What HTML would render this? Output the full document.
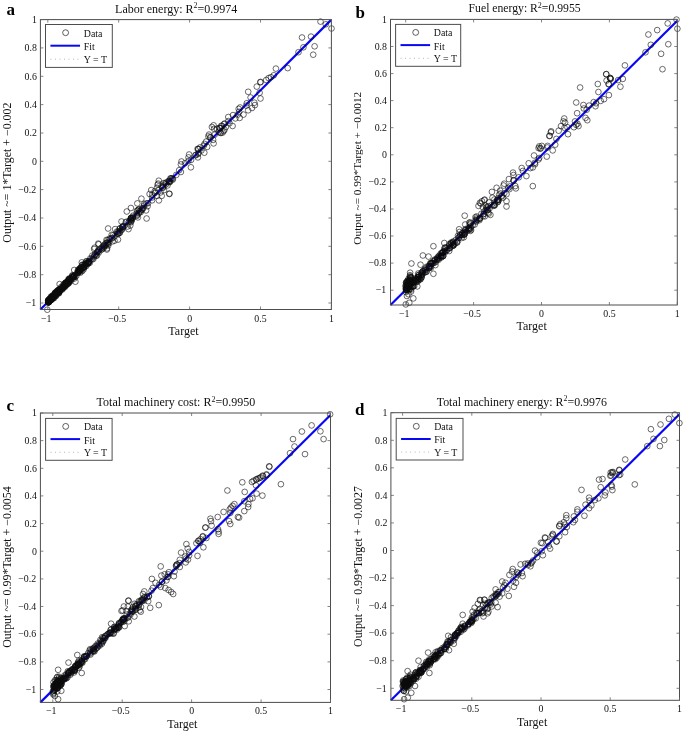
<!DOCTYPE html>
<html><head><meta charset="utf-8"><title>Regression plots</title>
<style>
html,body{margin:0;padding:0;background:#fff;}
svg{display:block;}
text{font-family:"Liberation Serif", "DejaVu Serif", serif;fill:#111;}
.tk{font-size:9.9px;}
.ti{font-size:12px;}
.lb{font-size:12px;}
.lg{font-size:9.9px;}
.lt{font-size:17px;font-weight:bold;fill:#000;}
.fr{fill:none;stroke:#4d4d4d;stroke-width:1;}
.pt{fill:none;stroke:#0a0a0a;stroke-width:0.6;}
</style></head><body>
<svg width="685" height="733" viewBox="0 0 685 733">
<rect x="0" y="0" width="685" height="733" fill="#fff"/>
<g>
<text class="lt" x="6.4" y="14.6">a</text>
<text class="ti" style="font-size:12px" x="176.2" y="12.6" text-anchor="middle">Labor energy: R<tspan dy="-4.3" font-size="8">2</tspan><tspan dy="4.3">=0.9974</tspan></text>
<clipPath id="cla"><rect x="36.4" y="15.6" width="299.0" height="297.9"/></clipPath>
<line x1="40.4" y1="309.5" x2="331.4" y2="19.6" stroke="#0808f4" stroke-width="2.2"/>
<g class="pt" clip-path="url(#cla)"><circle cx="53.5" cy="296.7" r="2.85"/><circle cx="64.8" cy="284.2" r="2.85"/><circle cx="256.8" cy="86.6" r="2.85"/><circle cx="71.9" cy="277.1" r="2.85"/><circle cx="169.4" cy="194.0" r="2.85"/><circle cx="154.7" cy="191.2" r="2.85"/><circle cx="237.8" cy="114.6" r="2.85"/><circle cx="78.1" cy="270.5" r="2.85"/><circle cx="94.7" cy="255.4" r="2.85"/><circle cx="69.2" cy="278.5" r="2.85"/><circle cx="61.3" cy="286.9" r="2.85"/><circle cx="252.0" cy="108.0" r="2.85"/><circle cx="169.1" cy="182.2" r="2.85"/><circle cx="78.3" cy="272.5" r="2.85"/><circle cx="78.3" cy="272.3" r="2.85"/><circle cx="86.1" cy="263.9" r="2.85"/><circle cx="197.6" cy="148.9" r="2.85"/><circle cx="63.7" cy="286.5" r="2.85"/><circle cx="78.1" cy="271.9" r="2.85"/><circle cx="82.0" cy="265.0" r="2.85"/><circle cx="207.2" cy="146.9" r="2.85"/><circle cx="266.2" cy="80.0" r="2.85"/><circle cx="126.4" cy="221.7" r="2.85"/><circle cx="58.5" cy="292.6" r="2.85"/><circle cx="49.4" cy="300.0" r="2.85"/><circle cx="112.5" cy="241.4" r="2.85"/><circle cx="59.1" cy="290.1" r="2.85"/><circle cx="185.0" cy="163.2" r="2.85"/><circle cx="287.7" cy="68.1" r="2.85"/><circle cx="72.9" cy="277.0" r="2.85"/><circle cx="65.5" cy="284.6" r="2.85"/><circle cx="131.0" cy="218.1" r="2.85"/><circle cx="114.5" cy="240.7" r="2.85"/><circle cx="86.2" cy="266.1" r="2.85"/><circle cx="141.8" cy="209.7" r="2.85"/><circle cx="63.3" cy="288.0" r="2.85"/><circle cx="64.1" cy="287.0" r="2.85"/><circle cx="49.2" cy="300.7" r="2.85"/><circle cx="64.0" cy="286.5" r="2.85"/><circle cx="273.8" cy="75.3" r="2.85"/><circle cx="57.2" cy="292.9" r="2.85"/><circle cx="157.0" cy="195.9" r="2.85"/><circle cx="82.2" cy="267.4" r="2.85"/><circle cx="152.1" cy="197.5" r="2.85"/><circle cx="219.3" cy="128.0" r="2.85"/><circle cx="198.2" cy="149.0" r="2.85"/><circle cx="142.3" cy="208.2" r="2.85"/><circle cx="108.3" cy="245.4" r="2.85"/><circle cx="52.0" cy="297.5" r="2.85"/><circle cx="88.5" cy="263.2" r="2.85"/><circle cx="126.8" cy="211.5" r="2.85"/><circle cx="119.4" cy="232.9" r="2.85"/><circle cx="107.0" cy="242.9" r="2.85"/><circle cx="58.8" cy="289.6" r="2.85"/><circle cx="66.1" cy="285.1" r="2.85"/><circle cx="143.3" cy="208.0" r="2.85"/><circle cx="128.5" cy="222.7" r="2.85"/><circle cx="260.5" cy="98.5" r="2.85"/><circle cx="203.8" cy="145.7" r="2.85"/><circle cx="60.4" cy="288.2" r="2.85"/><circle cx="325.8" cy="24.3" r="2.85"/><circle cx="55.3" cy="294.7" r="2.85"/><circle cx="331.5" cy="28.5" r="2.85"/><circle cx="103.3" cy="246.0" r="2.85"/><circle cx="224.7" cy="123.5" r="2.85"/><circle cx="80.3" cy="270.4" r="2.85"/><circle cx="121.5" cy="221.5" r="2.85"/><circle cx="74.8" cy="275.1" r="2.85"/><circle cx="163.0" cy="187.3" r="2.85"/><circle cx="74.0" cy="276.0" r="2.85"/><circle cx="84.0" cy="266.5" r="2.85"/><circle cx="254.4" cy="102.7" r="2.85"/><circle cx="68.7" cy="280.5" r="2.85"/><circle cx="302.0" cy="37.5" r="2.85"/><circle cx="70.3" cy="280.6" r="2.85"/><circle cx="131.1" cy="222.2" r="2.85"/><circle cx="48.3" cy="302.2" r="2.85"/><circle cx="89.0" cy="261.3" r="2.85"/><circle cx="83.6" cy="269.4" r="2.85"/><circle cx="87.1" cy="263.2" r="2.85"/><circle cx="65.8" cy="282.9" r="2.85"/><circle cx="53.9" cy="296.8" r="2.85"/><circle cx="52.5" cy="295.6" r="2.85"/><circle cx="197.9" cy="157.4" r="2.85"/><circle cx="270.9" cy="77.2" r="2.85"/><circle cx="112.9" cy="235.3" r="2.85"/><circle cx="50.1" cy="298.8" r="2.85"/><circle cx="52.6" cy="296.1" r="2.85"/><circle cx="73.8" cy="276.9" r="2.85"/><circle cx="157.0" cy="187.7" r="2.85"/><circle cx="243.5" cy="114.6" r="2.85"/><circle cx="57.9" cy="290.2" r="2.85"/><circle cx="133.1" cy="215.7" r="2.85"/><circle cx="209.0" cy="134.6" r="2.85"/><circle cx="132.7" cy="217.3" r="2.85"/><circle cx="121.2" cy="230.2" r="2.85"/><circle cx="55.0" cy="294.1" r="2.85"/><circle cx="73.7" cy="277.1" r="2.85"/><circle cx="51.2" cy="299.3" r="2.85"/><circle cx="48.4" cy="302.4" r="2.85"/><circle cx="69.4" cy="279.1" r="2.85"/><circle cx="51.9" cy="297.5" r="2.85"/><circle cx="138.7" cy="209.6" r="2.85"/><circle cx="180.9" cy="164.4" r="2.85"/><circle cx="129.0" cy="221.5" r="2.85"/><circle cx="82.1" cy="271.1" r="2.85"/><circle cx="52.8" cy="296.8" r="2.85"/><circle cx="48.4" cy="300.4" r="2.85"/><circle cx="200.2" cy="147.4" r="2.85"/><circle cx="106.5" cy="239.9" r="2.85"/><circle cx="66.0" cy="284.8" r="2.85"/><circle cx="50.4" cy="299.7" r="2.85"/><circle cx="189.1" cy="154.5" r="2.85"/><circle cx="98.7" cy="244.3" r="2.85"/><circle cx="208.4" cy="136.4" r="2.85"/><circle cx="118.0" cy="239.6" r="2.85"/><circle cx="260.5" cy="81.9" r="2.85"/><circle cx="56.0" cy="293.2" r="2.85"/><circle cx="48.1" cy="302.6" r="2.85"/><circle cx="122.5" cy="227.2" r="2.85"/><circle cx="59.8" cy="289.3" r="2.85"/><circle cx="98.2" cy="243.6" r="2.85"/><circle cx="222.1" cy="126.0" r="2.85"/><circle cx="172.5" cy="179.0" r="2.85"/><circle cx="51.5" cy="299.1" r="2.85"/><circle cx="224.5" cy="129.8" r="2.85"/><circle cx="102.6" cy="248.9" r="2.85"/><circle cx="87.6" cy="264.1" r="2.85"/><circle cx="118.3" cy="233.3" r="2.85"/><circle cx="58.1" cy="291.4" r="2.85"/><circle cx="86.3" cy="261.4" r="2.85"/><circle cx="161.7" cy="186.6" r="2.85"/><circle cx="158.4" cy="190.3" r="2.85"/><circle cx="157.7" cy="184.7" r="2.85"/><circle cx="106.9" cy="249.5" r="2.85"/><circle cx="68.0" cy="281.8" r="2.85"/><circle cx="117.9" cy="231.8" r="2.85"/><circle cx="67.2" cy="282.0" r="2.85"/><circle cx="51.6" cy="298.7" r="2.85"/><circle cx="146.4" cy="203.4" r="2.85"/><circle cx="54.1" cy="295.5" r="2.85"/><circle cx="144.3" cy="203.9" r="2.85"/><circle cx="82.4" cy="268.5" r="2.85"/><circle cx="59.2" cy="290.1" r="2.85"/><circle cx="52.0" cy="297.7" r="2.85"/><circle cx="72.5" cy="275.2" r="2.85"/><circle cx="57.8" cy="290.9" r="2.85"/><circle cx="51.0" cy="300.2" r="2.85"/><circle cx="52.5" cy="297.9" r="2.85"/><circle cx="144.1" cy="205.6" r="2.85"/><circle cx="163.6" cy="183.2" r="2.85"/><circle cx="246.3" cy="105.6" r="2.85"/><circle cx="48.5" cy="302.0" r="2.85"/><circle cx="48.6" cy="302.1" r="2.85"/><circle cx="48.4" cy="300.0" r="2.85"/><circle cx="69.7" cy="278.7" r="2.85"/><circle cx="268.6" cy="78.1" r="2.85"/><circle cx="119.2" cy="231.0" r="2.85"/><circle cx="49.9" cy="300.0" r="2.85"/><circle cx="68.3" cy="280.7" r="2.85"/><circle cx="64.9" cy="283.2" r="2.85"/><circle cx="239.7" cy="117.9" r="2.85"/><circle cx="116.9" cy="231.6" r="2.85"/><circle cx="160.5" cy="192.4" r="2.85"/><circle cx="72.7" cy="277.3" r="2.85"/><circle cx="62.2" cy="288.1" r="2.85"/><circle cx="68.3" cy="279.4" r="2.85"/><circle cx="238.7" cy="108.9" r="2.85"/><circle cx="104.3" cy="244.8" r="2.85"/><circle cx="51.4" cy="299.3" r="2.85"/><circle cx="62.3" cy="288.2" r="2.85"/><circle cx="52.4" cy="298.5" r="2.85"/><circle cx="56.2" cy="292.3" r="2.85"/><circle cx="63.2" cy="286.5" r="2.85"/><circle cx="64.0" cy="286.4" r="2.85"/><circle cx="219.7" cy="127.9" r="2.85"/><circle cx="311.0" cy="36.6" r="2.85"/><circle cx="49.5" cy="298.9" r="2.85"/><circle cx="48.5" cy="300.2" r="2.85"/><circle cx="69.2" cy="279.4" r="2.85"/><circle cx="137.3" cy="203.4" r="2.85"/><circle cx="50.8" cy="296.9" r="2.85"/><circle cx="158.8" cy="180.7" r="2.85"/><circle cx="233.0" cy="115.1" r="2.85"/><circle cx="88.5" cy="261.9" r="2.85"/><circle cx="80.1" cy="271.6" r="2.85"/><circle cx="128.5" cy="229.1" r="2.85"/><circle cx="204.6" cy="143.9" r="2.85"/><circle cx="63.3" cy="284.6" r="2.85"/><circle cx="172.0" cy="178.2" r="2.85"/><circle cx="77.1" cy="272.5" r="2.85"/><circle cx="58.5" cy="291.8" r="2.85"/><circle cx="210.2" cy="137.2" r="2.85"/><circle cx="95.9" cy="254.5" r="2.85"/><circle cx="63.8" cy="285.9" r="2.85"/><circle cx="58.0" cy="293.4" r="2.85"/><circle cx="55.1" cy="295.6" r="2.85"/><circle cx="105.9" cy="245.5" r="2.85"/><circle cx="146.6" cy="218.5" r="2.85"/><circle cx="58.9" cy="291.5" r="2.85"/><circle cx="179.2" cy="170.2" r="2.85"/><circle cx="138.7" cy="213.2" r="2.85"/><circle cx="56.4" cy="292.7" r="2.85"/><circle cx="76.4" cy="275.7" r="2.85"/><circle cx="48.8" cy="301.2" r="2.85"/><circle cx="131.6" cy="219.8" r="2.85"/><circle cx="130.8" cy="219.1" r="2.85"/><circle cx="216.9" cy="128.8" r="2.85"/><circle cx="89.1" cy="261.9" r="2.85"/><circle cx="92.3" cy="255.6" r="2.85"/><circle cx="58.9" cy="292.7" r="2.85"/><circle cx="148.0" cy="203.2" r="2.85"/><circle cx="56.4" cy="293.7" r="2.85"/><circle cx="56.0" cy="296.0" r="2.85"/><circle cx="136.9" cy="215.8" r="2.85"/><circle cx="198.5" cy="149.2" r="2.85"/><circle cx="60.4" cy="290.5" r="2.85"/><circle cx="49.7" cy="300.0" r="2.85"/><circle cx="59.6" cy="284.1" r="2.85"/><circle cx="220.4" cy="128.2" r="2.85"/><circle cx="106.9" cy="248.4" r="2.85"/><circle cx="122.5" cy="226.8" r="2.85"/><circle cx="166.3" cy="182.4" r="2.85"/><circle cx="59.6" cy="291.3" r="2.85"/><circle cx="254.9" cy="105.1" r="2.85"/><circle cx="164.0" cy="190.1" r="2.85"/><circle cx="169.3" cy="193.6" r="2.85"/><circle cx="55.6" cy="294.2" r="2.85"/><circle cx="104.1" cy="246.7" r="2.85"/><circle cx="55.3" cy="292.5" r="2.85"/><circle cx="51.6" cy="297.6" r="2.85"/><circle cx="89.8" cy="262.8" r="2.85"/><circle cx="79.1" cy="270.3" r="2.85"/><circle cx="250.6" cy="97.5" r="2.85"/><circle cx="55.3" cy="294.8" r="2.85"/><circle cx="73.9" cy="276.5" r="2.85"/><circle cx="198.1" cy="154.0" r="2.85"/><circle cx="168.6" cy="181.0" r="2.85"/><circle cx="79.2" cy="270.9" r="2.85"/><circle cx="55.7" cy="294.4" r="2.85"/><circle cx="122.9" cy="227.7" r="2.85"/><circle cx="73.3" cy="277.3" r="2.85"/><circle cx="109.8" cy="238.5" r="2.85"/><circle cx="94.8" cy="254.3" r="2.85"/><circle cx="169.7" cy="181.3" r="2.85"/><circle cx="130.3" cy="220.0" r="2.85"/><circle cx="61.8" cy="288.9" r="2.85"/><circle cx="213.6" cy="125.3" r="2.85"/><circle cx="53.6" cy="296.3" r="2.85"/><circle cx="49.5" cy="300.5" r="2.85"/><circle cx="228.3" cy="117.0" r="2.85"/><circle cx="137.1" cy="214.9" r="2.85"/><circle cx="48.1" cy="300.4" r="2.85"/><circle cx="117.2" cy="233.7" r="2.85"/><circle cx="161.7" cy="195.9" r="2.85"/><circle cx="81.8" cy="262.4" r="2.85"/><circle cx="88.1" cy="261.6" r="2.85"/><circle cx="55.9" cy="295.6" r="2.85"/><circle cx="167.5" cy="185.4" r="2.85"/><circle cx="88.0" cy="263.1" r="2.85"/><circle cx="80.1" cy="270.0" r="2.85"/><circle cx="52.7" cy="296.9" r="2.85"/><circle cx="163.5" cy="185.7" r="2.85"/><circle cx="105.8" cy="243.1" r="2.85"/><circle cx="70.7" cy="279.6" r="2.85"/><circle cx="79.3" cy="269.5" r="2.85"/><circle cx="90.3" cy="258.4" r="2.85"/><circle cx="191.1" cy="159.9" r="2.85"/><circle cx="136.9" cy="210.7" r="2.85"/><circle cx="80.6" cy="270.0" r="2.85"/><circle cx="67.3" cy="284.4" r="2.85"/><circle cx="139.9" cy="210.9" r="2.85"/><circle cx="120.0" cy="228.6" r="2.85"/><circle cx="59.0" cy="293.3" r="2.85"/><circle cx="53.0" cy="297.2" r="2.85"/><circle cx="55.1" cy="294.2" r="2.85"/><circle cx="228.3" cy="121.1" r="2.85"/><circle cx="298.5" cy="52.2" r="2.85"/><circle cx="119.9" cy="232.7" r="2.85"/><circle cx="107.5" cy="240.2" r="2.85"/><circle cx="136.5" cy="213.6" r="2.85"/><circle cx="131.2" cy="217.8" r="2.85"/><circle cx="176.3" cy="174.9" r="2.85"/><circle cx="72.5" cy="278.7" r="2.85"/><circle cx="97.0" cy="255.4" r="2.85"/><circle cx="68.7" cy="283.3" r="2.85"/><circle cx="66.5" cy="283.2" r="2.85"/><circle cx="49.1" cy="300.5" r="2.85"/><circle cx="232.6" cy="126.0" r="2.85"/><circle cx="54.9" cy="293.1" r="2.85"/><circle cx="68.9" cy="281.2" r="2.85"/><circle cx="201.4" cy="150.4" r="2.85"/><circle cx="85.6" cy="263.3" r="2.85"/><circle cx="260.4" cy="82.3" r="2.85"/><circle cx="94.1" cy="249.0" r="2.85"/><circle cx="214.2" cy="128.8" r="2.85"/><circle cx="108.7" cy="243.2" r="2.85"/><circle cx="62.3" cy="287.6" r="2.85"/><circle cx="166.2" cy="184.1" r="2.85"/><circle cx="53.8" cy="295.7" r="2.85"/><circle cx="100.1" cy="249.2" r="2.85"/><circle cx="108.1" cy="228.5" r="2.85"/><circle cx="96.1" cy="255.8" r="2.85"/><circle cx="122.6" cy="226.6" r="2.85"/><circle cx="221.2" cy="125.8" r="2.85"/><circle cx="188.5" cy="160.9" r="2.85"/><circle cx="211.9" cy="127.0" r="2.85"/><circle cx="142.4" cy="209.4" r="2.85"/><circle cx="55.8" cy="293.3" r="2.85"/><circle cx="65.3" cy="284.2" r="2.85"/><circle cx="48.5" cy="300.8" r="2.85"/><circle cx="67.7" cy="282.3" r="2.85"/><circle cx="127.5" cy="226.5" r="2.85"/><circle cx="132.8" cy="217.9" r="2.85"/><circle cx="53.1" cy="296.4" r="2.85"/><circle cx="48.4" cy="302.3" r="2.85"/><circle cx="213.6" cy="143.4" r="2.85"/><circle cx="74.4" cy="278.5" r="2.85"/><circle cx="130.3" cy="225.5" r="2.85"/><circle cx="198.4" cy="153.0" r="2.85"/><circle cx="49.1" cy="302.1" r="2.85"/><circle cx="218.8" cy="131.7" r="2.85"/><circle cx="86.0" cy="264.3" r="2.85"/><circle cx="53.0" cy="296.9" r="2.85"/><circle cx="51.8" cy="299.0" r="2.85"/><circle cx="54.0" cy="298.2" r="2.85"/><circle cx="62.2" cy="288.2" r="2.85"/><circle cx="50.8" cy="299.4" r="2.85"/><circle cx="82.8" cy="264.7" r="2.85"/><circle cx="51.1" cy="299.5" r="2.85"/><circle cx="91.3" cy="258.9" r="2.85"/><circle cx="72.5" cy="276.6" r="2.85"/><circle cx="137.9" cy="217.4" r="2.85"/><circle cx="137.8" cy="210.5" r="2.85"/><circle cx="214.7" cy="134.7" r="2.85"/><circle cx="195.7" cy="155.3" r="2.85"/><circle cx="66.2" cy="283.7" r="2.85"/><circle cx="50.0" cy="298.7" r="2.85"/><circle cx="125.7" cy="222.4" r="2.85"/><circle cx="68.2" cy="283.3" r="2.85"/><circle cx="52.5" cy="298.2" r="2.85"/><circle cx="303.4" cy="47.3" r="2.85"/><circle cx="62.2" cy="288.5" r="2.85"/><circle cx="74.0" cy="275.8" r="2.85"/><circle cx="204.3" cy="152.7" r="2.85"/><circle cx="58.4" cy="291.4" r="2.85"/><circle cx="51.8" cy="298.1" r="2.85"/><circle cx="84.8" cy="264.6" r="2.85"/><circle cx="210.7" cy="137.5" r="2.85"/><circle cx="190.9" cy="167.3" r="2.85"/><circle cx="84.1" cy="267.2" r="2.85"/><circle cx="50.2" cy="298.6" r="2.85"/><circle cx="235.4" cy="118.4" r="2.85"/><circle cx="81.0" cy="267.3" r="2.85"/><circle cx="101.3" cy="249.8" r="2.85"/><circle cx="51.5" cy="299.7" r="2.85"/><circle cx="65.7" cy="282.5" r="2.85"/><circle cx="224.0" cy="124.1" r="2.85"/><circle cx="50.7" cy="298.5" r="2.85"/><circle cx="75.2" cy="276.8" r="2.85"/><circle cx="55.8" cy="294.5" r="2.85"/><circle cx="130.9" cy="218.5" r="2.85"/><circle cx="93.7" cy="257.0" r="2.85"/><circle cx="65.6" cy="284.8" r="2.85"/><circle cx="66.1" cy="284.5" r="2.85"/><circle cx="64.7" cy="284.3" r="2.85"/><circle cx="112.2" cy="238.3" r="2.85"/><circle cx="259.6" cy="92.8" r="2.85"/><circle cx="149.6" cy="194.0" r="2.85"/><circle cx="58.8" cy="292.2" r="2.85"/><circle cx="225.9" cy="127.0" r="2.85"/><circle cx="80.3" cy="268.1" r="2.85"/><circle cx="130.9" cy="208.0" r="2.85"/><circle cx="57.1" cy="290.9" r="2.85"/><circle cx="141.4" cy="198.7" r="2.85"/><circle cx="275.9" cy="68.6" r="2.85"/><circle cx="229.5" cy="123.2" r="2.85"/><circle cx="64.6" cy="285.5" r="2.85"/><circle cx="56.4" cy="292.5" r="2.85"/><circle cx="79.8" cy="268.6" r="2.85"/><circle cx="104.9" cy="245.4" r="2.85"/><circle cx="64.8" cy="284.4" r="2.85"/><circle cx="80.3" cy="272.7" r="2.85"/><circle cx="140.8" cy="212.0" r="2.85"/><circle cx="220.1" cy="132.8" r="2.85"/><circle cx="138.9" cy="209.3" r="2.85"/><circle cx="78.1" cy="269.7" r="2.85"/><circle cx="84.6" cy="265.0" r="2.85"/><circle cx="50.1" cy="299.0" r="2.85"/><circle cx="48.7" cy="300.7" r="2.85"/><circle cx="222.6" cy="132.6" r="2.85"/><circle cx="188.5" cy="157.4" r="2.85"/><circle cx="172.8" cy="179.6" r="2.85"/><circle cx="146.1" cy="210.4" r="2.85"/><circle cx="320.5" cy="21.6" r="2.85"/><circle cx="220.9" cy="133.0" r="2.85"/><circle cx="98.6" cy="250.7" r="2.85"/><circle cx="68.6" cy="282.7" r="2.85"/><circle cx="170.4" cy="178.4" r="2.85"/><circle cx="248.2" cy="110.3" r="2.85"/><circle cx="63.5" cy="286.7" r="2.85"/><circle cx="93.4" cy="258.9" r="2.85"/><circle cx="53.1" cy="295.9" r="2.85"/><circle cx="80.6" cy="268.3" r="2.85"/><circle cx="97.7" cy="252.0" r="2.85"/><circle cx="88.5" cy="262.7" r="2.85"/><circle cx="195.5" cy="155.0" r="2.85"/><circle cx="122.2" cy="229.3" r="2.85"/><circle cx="48.3" cy="301.8" r="2.85"/><circle cx="180.9" cy="172.0" r="2.85"/><circle cx="53.1" cy="298.2" r="2.85"/><circle cx="131.1" cy="218.2" r="2.85"/><circle cx="97.9" cy="250.7" r="2.85"/><circle cx="64.5" cy="286.4" r="2.85"/><circle cx="165.2" cy="183.1" r="2.85"/><circle cx="70.5" cy="281.3" r="2.85"/><circle cx="66.2" cy="282.6" r="2.85"/><circle cx="83.9" cy="266.4" r="2.85"/><circle cx="50.3" cy="299.3" r="2.85"/><circle cx="111.7" cy="234.8" r="2.85"/><circle cx="68.8" cy="282.0" r="2.85"/><circle cx="50.0" cy="300.2" r="2.85"/><circle cx="169.0" cy="180.9" r="2.85"/><circle cx="314.6" cy="46.3" r="2.85"/><circle cx="51.5" cy="296.4" r="2.85"/><circle cx="72.3" cy="275.9" r="2.85"/><circle cx="240.1" cy="107.5" r="2.85"/><circle cx="92.2" cy="259.3" r="2.85"/><circle cx="53.6" cy="296.4" r="2.85"/><circle cx="111.5" cy="238.2" r="2.85"/><circle cx="68.7" cy="281.7" r="2.85"/><circle cx="118.1" cy="234.0" r="2.85"/><circle cx="66.0" cy="282.7" r="2.85"/><circle cx="49.0" cy="301.2" r="2.85"/><circle cx="114.5" cy="236.5" r="2.85"/><circle cx="103.7" cy="247.9" r="2.85"/><circle cx="181.5" cy="161.5" r="2.85"/><circle cx="170.1" cy="181.9" r="2.85"/><circle cx="246.8" cy="103.2" r="2.85"/><circle cx="55.2" cy="294.4" r="2.85"/><circle cx="47.3" cy="309.7" r="2.85"/><circle cx="139.6" cy="212.1" r="2.85"/><circle cx="62.4" cy="289.5" r="2.85"/><circle cx="223.6" cy="131.1" r="2.85"/><circle cx="109.7" cy="239.3" r="2.85"/><circle cx="131.0" cy="221.2" r="2.85"/><circle cx="83.7" cy="264.8" r="2.85"/><circle cx="55.2" cy="295.1" r="2.85"/><circle cx="132.0" cy="219.6" r="2.85"/><circle cx="59.3" cy="291.0" r="2.85"/><circle cx="49.4" cy="300.7" r="2.85"/><circle cx="123.6" cy="226.0" r="2.85"/><circle cx="60.3" cy="289.8" r="2.85"/><circle cx="60.7" cy="289.5" r="2.85"/><circle cx="97.2" cy="252.2" r="2.85"/><circle cx="58.4" cy="292.3" r="2.85"/><circle cx="82.6" cy="268.2" r="2.85"/><circle cx="48.8" cy="300.6" r="2.85"/><circle cx="107.9" cy="242.2" r="2.85"/><circle cx="152.3" cy="194.7" r="2.85"/><circle cx="55.3" cy="293.0" r="2.85"/><circle cx="54.1" cy="294.4" r="2.85"/><circle cx="147.6" cy="206.2" r="2.85"/><circle cx="152.1" cy="200.3" r="2.85"/><circle cx="65.2" cy="286.7" r="2.85"/><circle cx="75.4" cy="281.7" r="2.85"/><circle cx="67.1" cy="282.0" r="2.85"/><circle cx="79.5" cy="270.1" r="2.85"/><circle cx="69.7" cy="279.9" r="2.85"/><circle cx="84.5" cy="266.7" r="2.85"/><circle cx="79.5" cy="270.2" r="2.85"/><circle cx="74.2" cy="270.0" r="2.85"/><circle cx="83.8" cy="267.8" r="2.85"/><circle cx="94.7" cy="247.7" r="2.85"/><circle cx="49.9" cy="300.7" r="2.85"/><circle cx="158.9" cy="200.4" r="2.85"/><circle cx="115.1" cy="229.1" r="2.85"/><circle cx="213.1" cy="139.9" r="2.85"/><circle cx="50.0" cy="300.3" r="2.85"/><circle cx="248.2" cy="91.8" r="2.85"/><circle cx="108.1" cy="243.7" r="2.85"/><circle cx="154.9" cy="192.9" r="2.85"/><circle cx="57.9" cy="291.9" r="2.85"/><circle cx="78.0" cy="272.6" r="2.85"/><circle cx="313.2" cy="54.7" r="2.85"/><circle cx="67.9" cy="282.2" r="2.85"/><circle cx="119.9" cy="228.4" r="2.85"/><circle cx="239.2" cy="111.8" r="2.85"/><circle cx="170.9" cy="178.5" r="2.85"/><circle cx="151.2" cy="190.1" r="2.85"/><circle cx="162.9" cy="187.7" r="2.85"/><circle cx="98.9" cy="252.4" r="2.85"/><circle cx="158.2" cy="183.6" r="2.85"/><circle cx="86.6" cy="261.3" r="2.85"/><circle cx="54.3" cy="296.2" r="2.85"/><circle cx="206.1" cy="141.6" r="2.85"/><circle cx="101.7" cy="247.6" r="2.85"/><circle cx="49.4" cy="300.6" r="2.85"/></g>
<rect class="fr" x="40.4" y="19.6" width="291.0" height="289.9"/>
<text class="tk" x="46.3" y="322.0" text-anchor="middle">−1</text>
<text class="tk" x="117.2" y="322.0" text-anchor="middle">−0.5</text>
<text class="tk" x="189.6" y="322.0" text-anchor="middle">0</text>
<text class="tk" x="260.5" y="322.0" text-anchor="middle">0.5</text>
<text class="tk" x="331.4" y="322.0" text-anchor="middle">1</text>
<text class="tk" x="36.2" y="306.2" text-anchor="end">−1</text>
<text class="tk" x="36.2" y="277.9" text-anchor="end">−0.8</text>
<text class="tk" x="36.2" y="249.5" text-anchor="end">−0.6</text>
<text class="tk" x="36.2" y="221.2" text-anchor="end">−0.4</text>
<text class="tk" x="36.2" y="192.8" text-anchor="end">−0.2</text>
<text class="tk" x="36.9" y="164.5" text-anchor="end">0</text>
<text class="tk" x="36.9" y="136.2" text-anchor="end">0.2</text>
<text class="tk" x="36.9" y="107.8" text-anchor="end">0.4</text>
<text class="tk" x="36.9" y="79.5" text-anchor="end">0.6</text>
<text class="tk" x="36.9" y="51.1" text-anchor="end">0.8</text>
<text class="tk" x="36.9" y="22.8" text-anchor="end">1</text>
<path d="M47.8 309.5v-3M47.8 19.6v3M118.7 309.5v-3M118.7 19.6v3M189.6 309.5v-3M189.6 19.6v3M260.5 309.5v-3M260.5 19.6v3M331.4 309.5v-3M331.4 19.6v3M40.4 303.0h3M331.4 303.0h-3M40.4 274.7h3M331.4 274.7h-3M40.4 246.3h3M331.4 246.3h-3M40.4 218.0h3M331.4 218.0h-3M40.4 189.6h3M331.4 189.6h-3M40.4 161.3h3M331.4 161.3h-3M40.4 133.0h3M331.4 133.0h-3M40.4 104.6h3M331.4 104.6h-3M40.4 76.3h3M331.4 76.3h-3M40.4 47.9h3M331.4 47.9h-3M40.4 19.6h3M331.4 19.6h-3" stroke="#666" stroke-width="0.8" fill="none"/>
<text class="lb" x="183.5" y="335.0" text-anchor="middle">Target</text>
<text class="lb" style="font-size:11.9px" transform="translate(11.1 172.6) rotate(-90)" text-anchor="middle">Output ~= 1*Target + −0.002</text>
<rect x="45.5" y="24.5" width="66.8" height="42.9" fill="#fff" stroke="#4d4d4d" stroke-width="1"/>
<circle cx="65.6" cy="32.7" r="2.95" fill="none" stroke="#1c1c1c" stroke-width="0.7"/>
<line x1="50.4" y1="45.7" x2="80.0" y2="45.7" stroke="#0808f4" stroke-width="2"/>
<line x1="50.5" y1="59.2" x2="80.0" y2="59.2" stroke="#777" stroke-width="0.6" stroke-dasharray="0.9 3.6"/>
<text class="lg" x="83.8" y="36.5">Data</text>
<text class="lg" x="83.8" y="50.1">Fit</text>
<text class="lg" x="83.8" y="63.2">Y = T</text>
</g>
<g>
<text class="lt" x="355.6" y="18.0">b</text>
<text class="ti" style="font-size:11.7px" x="524.6" y="12.4" text-anchor="middle">Fuel energy: R<tspan dy="-4.3" font-size="8">2</tspan><tspan dy="4.3">=0.9955</tspan></text>
<clipPath id="clb"><rect x="386.5" y="15.4" width="294.8" height="293.6"/></clipPath>
<line x1="390.5" y1="305.0" x2="677.3" y2="20.8" stroke="#0808f4" stroke-width="2.2"/>
<g class="pt" clip-path="url(#clb)"><circle cx="462.8" cy="233.3" r="2.85"/><circle cx="439.4" cy="257.3" r="2.85"/><circle cx="498.0" cy="198.3" r="2.85"/><circle cx="573.9" cy="127.2" r="2.85"/><circle cx="532.8" cy="186.1" r="2.85"/><circle cx="498.8" cy="200.1" r="2.85"/><circle cx="493.8" cy="204.9" r="2.85"/><circle cx="408.2" cy="283.4" r="2.85"/><circle cx="522.9" cy="170.9" r="2.85"/><circle cx="415.2" cy="281.0" r="2.85"/><circle cx="413.4" cy="282.8" r="2.85"/><circle cx="430.9" cy="263.6" r="2.85"/><circle cx="444.3" cy="249.3" r="2.85"/><circle cx="483.7" cy="214.1" r="2.85"/><circle cx="406.9" cy="286.1" r="2.85"/><circle cx="610.1" cy="77.9" r="2.85"/><circle cx="446.4" cy="247.6" r="2.85"/><circle cx="425.1" cy="268.6" r="2.85"/><circle cx="416.5" cy="280.2" r="2.85"/><circle cx="465.4" cy="229.1" r="2.85"/><circle cx="428.2" cy="266.4" r="2.85"/><circle cx="412.9" cy="285.9" r="2.85"/><circle cx="532.8" cy="167.4" r="2.85"/><circle cx="503.6" cy="185.5" r="2.85"/><circle cx="429.2" cy="266.0" r="2.85"/><circle cx="407.4" cy="289.0" r="2.85"/><circle cx="490.4" cy="214.9" r="2.85"/><circle cx="461.7" cy="235.2" r="2.85"/><circle cx="409.5" cy="280.0" r="2.85"/><circle cx="455.9" cy="239.8" r="2.85"/><circle cx="441.5" cy="256.8" r="2.85"/><circle cx="484.8" cy="216.4" r="2.85"/><circle cx="415.3" cy="280.9" r="2.85"/><circle cx="515.3" cy="186.1" r="2.85"/><circle cx="410.0" cy="275.2" r="2.85"/><circle cx="475.5" cy="217.1" r="2.85"/><circle cx="539.2" cy="158.0" r="2.85"/><circle cx="434.6" cy="259.6" r="2.85"/><circle cx="486.7" cy="207.1" r="2.85"/><circle cx="410.2" cy="284.1" r="2.85"/><circle cx="444.8" cy="247.5" r="2.85"/><circle cx="441.4" cy="256.0" r="2.85"/><circle cx="410.4" cy="277.5" r="2.85"/><circle cx="406.5" cy="289.9" r="2.85"/><circle cx="435.9" cy="262.0" r="2.85"/><circle cx="491.6" cy="205.2" r="2.85"/><circle cx="464.6" cy="232.4" r="2.85"/><circle cx="657.2" cy="30.1" r="2.85"/><circle cx="504.2" cy="183.7" r="2.85"/><circle cx="411.1" cy="286.2" r="2.85"/><circle cx="538.5" cy="159.5" r="2.85"/><circle cx="433.3" cy="261.1" r="2.85"/><circle cx="408.9" cy="288.2" r="2.85"/><circle cx="441.3" cy="256.0" r="2.85"/><circle cx="662.5" cy="69.2" r="2.85"/><circle cx="407.1" cy="288.6" r="2.85"/><circle cx="487.5" cy="210.0" r="2.85"/><circle cx="410.9" cy="280.9" r="2.85"/><circle cx="606.2" cy="74.2" r="2.85"/><circle cx="439.8" cy="255.8" r="2.85"/><circle cx="443.3" cy="251.6" r="2.85"/><circle cx="598.4" cy="92.0" r="2.85"/><circle cx="668.3" cy="44.2" r="2.85"/><circle cx="411.4" cy="277.8" r="2.85"/><circle cx="407.4" cy="285.7" r="2.85"/><circle cx="521.7" cy="168.0" r="2.85"/><circle cx="484.7" cy="199.6" r="2.85"/><circle cx="409.1" cy="284.6" r="2.85"/><circle cx="441.1" cy="257.6" r="2.85"/><circle cx="438.7" cy="259.7" r="2.85"/><circle cx="470.7" cy="223.4" r="2.85"/><circle cx="429.4" cy="268.1" r="2.85"/><circle cx="410.7" cy="283.1" r="2.85"/><circle cx="409.6" cy="282.9" r="2.85"/><circle cx="435.0" cy="260.0" r="2.85"/><circle cx="468.0" cy="228.2" r="2.85"/><circle cx="439.1" cy="255.6" r="2.85"/><circle cx="408.4" cy="281.9" r="2.85"/><circle cx="597.8" cy="84.0" r="2.85"/><circle cx="424.3" cy="270.0" r="2.85"/><circle cx="445.2" cy="251.2" r="2.85"/><circle cx="418.1" cy="277.0" r="2.85"/><circle cx="488.8" cy="213.6" r="2.85"/><circle cx="407.0" cy="283.6" r="2.85"/><circle cx="585.5" cy="117.9" r="2.85"/><circle cx="460.2" cy="235.0" r="2.85"/><circle cx="411.0" cy="281.1" r="2.85"/><circle cx="406.5" cy="282.3" r="2.85"/><circle cx="425.0" cy="272.2" r="2.85"/><circle cx="442.0" cy="253.1" r="2.85"/><circle cx="474.7" cy="224.5" r="2.85"/><circle cx="506.5" cy="194.2" r="2.85"/><circle cx="430.4" cy="263.0" r="2.85"/><circle cx="443.3" cy="252.5" r="2.85"/><circle cx="408.7" cy="283.2" r="2.85"/><circle cx="465.2" cy="230.2" r="2.85"/><circle cx="433.4" cy="273.8" r="2.85"/><circle cx="667.7" cy="23.4" r="2.85"/><circle cx="419.8" cy="278.6" r="2.85"/><circle cx="418.1" cy="277.0" r="2.85"/><circle cx="459.1" cy="229.3" r="2.85"/><circle cx="480.8" cy="203.6" r="2.85"/><circle cx="418.0" cy="277.2" r="2.85"/><circle cx="430.5" cy="263.5" r="2.85"/><circle cx="550.9" cy="132.3" r="2.85"/><circle cx="575.0" cy="121.4" r="2.85"/><circle cx="408.6" cy="287.3" r="2.85"/><circle cx="421.5" cy="274.7" r="2.85"/><circle cx="577.4" cy="123.7" r="2.85"/><circle cx="449.2" cy="251.0" r="2.85"/><circle cx="618.1" cy="80.1" r="2.85"/><circle cx="500.1" cy="190.7" r="2.85"/><circle cx="513.7" cy="180.7" r="2.85"/><circle cx="408.9" cy="284.7" r="2.85"/><circle cx="530.3" cy="168.1" r="2.85"/><circle cx="563.4" cy="121.4" r="2.85"/><circle cx="528.7" cy="163.3" r="2.85"/><circle cx="476.2" cy="220.8" r="2.85"/><circle cx="418.2" cy="273.5" r="2.85"/><circle cx="408.0" cy="280.6" r="2.85"/><circle cx="440.9" cy="253.3" r="2.85"/><circle cx="479.6" cy="218.9" r="2.85"/><circle cx="409.2" cy="289.3" r="2.85"/><circle cx="408.4" cy="283.6" r="2.85"/><circle cx="418.5" cy="277.0" r="2.85"/><circle cx="610.3" cy="78.1" r="2.85"/><circle cx="547.6" cy="145.9" r="2.85"/><circle cx="496.6" cy="187.8" r="2.85"/><circle cx="416.3" cy="282.1" r="2.85"/><circle cx="535.1" cy="164.2" r="2.85"/><circle cx="478.5" cy="205.9" r="2.85"/><circle cx="410.9" cy="284.2" r="2.85"/><circle cx="410.1" cy="272.7" r="2.85"/><circle cx="431.0" cy="267.6" r="2.85"/><circle cx="437.4" cy="258.2" r="2.85"/><circle cx="455.1" cy="243.5" r="2.85"/><circle cx="453.1" cy="242.4" r="2.85"/><circle cx="469.8" cy="229.3" r="2.85"/><circle cx="410.8" cy="280.8" r="2.85"/><circle cx="463.7" cy="235.0" r="2.85"/><circle cx="426.5" cy="271.8" r="2.85"/><circle cx="406.2" cy="284.6" r="2.85"/><circle cx="475.5" cy="220.1" r="2.85"/><circle cx="437.7" cy="257.1" r="2.85"/><circle cx="465.8" cy="230.1" r="2.85"/><circle cx="515.9" cy="188.4" r="2.85"/><circle cx="437.3" cy="259.6" r="2.85"/><circle cx="430.1" cy="266.9" r="2.85"/><circle cx="415.7" cy="278.5" r="2.85"/><circle cx="476.2" cy="221.7" r="2.85"/><circle cx="568.0" cy="134.2" r="2.85"/><circle cx="610.7" cy="78.8" r="2.85"/><circle cx="445.3" cy="252.1" r="2.85"/><circle cx="485.9" cy="205.7" r="2.85"/><circle cx="497.2" cy="200.1" r="2.85"/><circle cx="432.9" cy="263.3" r="2.85"/><circle cx="405.9" cy="292.0" r="2.85"/><circle cx="526.4" cy="176.1" r="2.85"/><circle cx="406.1" cy="288.2" r="2.85"/><circle cx="407.5" cy="284.0" r="2.85"/><circle cx="433.4" cy="246.2" r="2.85"/><circle cx="464.6" cy="234.1" r="2.85"/><circle cx="432.4" cy="263.2" r="2.85"/><circle cx="405.7" cy="285.7" r="2.85"/><circle cx="469.0" cy="229.3" r="2.85"/><circle cx="458.0" cy="235.7" r="2.85"/><circle cx="494.9" cy="204.7" r="2.85"/><circle cx="429.1" cy="266.0" r="2.85"/><circle cx="406.4" cy="289.9" r="2.85"/><circle cx="541.8" cy="145.9" r="2.85"/><circle cx="677.4" cy="28.7" r="2.85"/><circle cx="483.6" cy="214.0" r="2.85"/><circle cx="418.5" cy="279.9" r="2.85"/><circle cx="405.9" cy="289.8" r="2.85"/><circle cx="459.8" cy="235.5" r="2.85"/><circle cx="422.9" cy="255.5" r="2.85"/><circle cx="564.5" cy="127.8" r="2.85"/><circle cx="409.3" cy="289.0" r="2.85"/><circle cx="469.2" cy="222.7" r="2.85"/><circle cx="431.8" cy="262.8" r="2.85"/><circle cx="420.4" cy="279.0" r="2.85"/><circle cx="451.0" cy="242.6" r="2.85"/><circle cx="428.8" cy="267.9" r="2.85"/><circle cx="459.5" cy="232.0" r="2.85"/><circle cx="437.1" cy="258.8" r="2.85"/><circle cx="608.9" cy="95.1" r="2.85"/><circle cx="442.1" cy="252.9" r="2.85"/><circle cx="561.0" cy="126.1" r="2.85"/><circle cx="470.0" cy="224.6" r="2.85"/><circle cx="406.9" cy="288.3" r="2.85"/><circle cx="556.4" cy="138.9" r="2.85"/><circle cx="620.4" cy="86.7" r="2.85"/><circle cx="463.8" cy="237.3" r="2.85"/><circle cx="423.4" cy="273.2" r="2.85"/><circle cx="408.3" cy="285.4" r="2.85"/><circle cx="446.9" cy="249.7" r="2.85"/><circle cx="539.2" cy="146.4" r="2.85"/><circle cx="506.5" cy="201.2" r="2.85"/><circle cx="513.5" cy="175.0" r="2.85"/><circle cx="508.9" cy="179.1" r="2.85"/><circle cx="449.5" cy="245.8" r="2.85"/><circle cx="411.4" cy="283.4" r="2.85"/><circle cx="608.9" cy="84.0" r="2.85"/><circle cx="441.1" cy="255.3" r="2.85"/><circle cx="583.4" cy="105.0" r="2.85"/><circle cx="447.4" cy="249.8" r="2.85"/><circle cx="453.2" cy="241.5" r="2.85"/><circle cx="608.5" cy="84.2" r="2.85"/><circle cx="426.6" cy="266.8" r="2.85"/><circle cx="494.7" cy="202.5" r="2.85"/><circle cx="406.7" cy="289.5" r="2.85"/><circle cx="534.8" cy="162.8" r="2.85"/><circle cx="481.4" cy="213.8" r="2.85"/><circle cx="435.4" cy="265.1" r="2.85"/><circle cx="452.6" cy="244.3" r="2.85"/><circle cx="600.7" cy="100.9" r="2.85"/><circle cx="499.2" cy="194.6" r="2.85"/><circle cx="410.2" cy="282.7" r="2.85"/><circle cx="452.6" cy="242.6" r="2.85"/><circle cx="469.1" cy="227.8" r="2.85"/><circle cx="503.0" cy="197.7" r="2.85"/><circle cx="604.0" cy="99.2" r="2.85"/><circle cx="468.7" cy="229.1" r="2.85"/><circle cx="445.1" cy="247.9" r="2.85"/><circle cx="504.2" cy="193.3" r="2.85"/><circle cx="486.0" cy="209.8" r="2.85"/><circle cx="489.0" cy="202.4" r="2.85"/><circle cx="470.2" cy="222.4" r="2.85"/><circle cx="587.3" cy="120.2" r="2.85"/><circle cx="405.8" cy="304.4" r="2.85"/><circle cx="413.3" cy="298.4" r="2.85"/><circle cx="593.7" cy="102.1" r="2.85"/><circle cx="418.0" cy="281.2" r="2.85"/><circle cx="444.7" cy="251.1" r="2.85"/><circle cx="411.4" cy="282.3" r="2.85"/><circle cx="457.1" cy="242.4" r="2.85"/><circle cx="413.1" cy="286.5" r="2.85"/><circle cx="411.3" cy="277.1" r="2.85"/><circle cx="538.6" cy="148.1" r="2.85"/><circle cx="416.6" cy="281.7" r="2.85"/><circle cx="425.7" cy="269.8" r="2.85"/><circle cx="421.5" cy="272.9" r="2.85"/><circle cx="406.0" cy="282.7" r="2.85"/><circle cx="409.9" cy="289.2" r="2.85"/><circle cx="409.5" cy="281.0" r="2.85"/><circle cx="565.1" cy="122.6" r="2.85"/><circle cx="676.5" cy="19.6" r="2.85"/><circle cx="480.1" cy="217.9" r="2.85"/><circle cx="414.4" cy="280.4" r="2.85"/><circle cx="429.3" cy="267.3" r="2.85"/><circle cx="580.1" cy="87.5" r="2.85"/><circle cx="449.3" cy="244.1" r="2.85"/><circle cx="410.0" cy="286.2" r="2.85"/><circle cx="459.0" cy="237.9" r="2.85"/><circle cx="415.6" cy="278.7" r="2.85"/><circle cx="411.1" cy="289.6" r="2.85"/><circle cx="443.0" cy="256.1" r="2.85"/><circle cx="498.1" cy="201.5" r="2.85"/><circle cx="406.9" cy="296.0" r="2.85"/><circle cx="422.0" cy="275.1" r="2.85"/><circle cx="421.0" cy="275.8" r="2.85"/><circle cx="583.8" cy="108.5" r="2.85"/><circle cx="596.1" cy="103.3" r="2.85"/><circle cx="555.2" cy="144.7" r="2.85"/><circle cx="470.3" cy="230.9" r="2.85"/><circle cx="413.3" cy="282.2" r="2.85"/><circle cx="418.4" cy="275.1" r="2.85"/><circle cx="624.9" cy="65.4" r="2.85"/><circle cx="444.3" cy="243.0" r="2.85"/><circle cx="595.5" cy="106.2" r="2.85"/><circle cx="443.2" cy="255.8" r="2.85"/><circle cx="494.4" cy="199.5" r="2.85"/><circle cx="426.3" cy="271.7" r="2.85"/><circle cx="414.2" cy="286.0" r="2.85"/><circle cx="477.4" cy="219.5" r="2.85"/><circle cx="411.5" cy="286.7" r="2.85"/><circle cx="577.1" cy="113.2" r="2.85"/><circle cx="421.5" cy="277.3" r="2.85"/><circle cx="513.5" cy="180.2" r="2.85"/><circle cx="622.8" cy="78.9" r="2.85"/><circle cx="488.1" cy="212.5" r="2.85"/><circle cx="497.4" cy="200.4" r="2.85"/><circle cx="449.8" cy="247.3" r="2.85"/><circle cx="661.1" cy="53.8" r="2.85"/><circle cx="410.0" cy="276.3" r="2.85"/><circle cx="476.4" cy="218.5" r="2.85"/><circle cx="479.4" cy="220.2" r="2.85"/><circle cx="461.7" cy="238.0" r="2.85"/><circle cx="576.2" cy="124.9" r="2.85"/><circle cx="438.4" cy="258.7" r="2.85"/><circle cx="549.3" cy="136.0" r="2.85"/><circle cx="558.7" cy="130.7" r="2.85"/><circle cx="408.1" cy="284.2" r="2.85"/><circle cx="494.5" cy="205.6" r="2.85"/><circle cx="417.0" cy="279.9" r="2.85"/><circle cx="451.5" cy="243.3" r="2.85"/><circle cx="408.8" cy="280.7" r="2.85"/><circle cx="546.8" cy="156.6" r="2.85"/><circle cx="470.7" cy="228.1" r="2.85"/><circle cx="416.6" cy="279.2" r="2.85"/><circle cx="497.8" cy="202.1" r="2.85"/><circle cx="411.0" cy="283.3" r="2.85"/><circle cx="650.8" cy="44.8" r="2.85"/><circle cx="407.2" cy="282.6" r="2.85"/><circle cx="410.2" cy="284.2" r="2.85"/><circle cx="421.6" cy="277.3" r="2.85"/><circle cx="453.8" cy="245.2" r="2.85"/><circle cx="406.4" cy="282.4" r="2.85"/><circle cx="509.5" cy="189.1" r="2.85"/><circle cx="418.4" cy="278.5" r="2.85"/><circle cx="502.2" cy="195.5" r="2.85"/><circle cx="576.2" cy="102.5" r="2.85"/><circle cx="419.0" cy="278.5" r="2.85"/><circle cx="508.3" cy="188.0" r="2.85"/><circle cx="471.1" cy="230.0" r="2.85"/><circle cx="420.5" cy="279.4" r="2.85"/><circle cx="464.7" cy="215.7" r="2.85"/><circle cx="498.1" cy="199.5" r="2.85"/><circle cx="443.1" cy="256.1" r="2.85"/><circle cx="479.9" cy="202.8" r="2.85"/><circle cx="422.1" cy="273.7" r="2.85"/><circle cx="564.2" cy="118.5" r="2.85"/><circle cx="407.2" cy="285.4" r="2.85"/><circle cx="461.8" cy="234.9" r="2.85"/><circle cx="408.9" cy="287.3" r="2.85"/><circle cx="501.5" cy="196.5" r="2.85"/><circle cx="464.2" cy="234.5" r="2.85"/><circle cx="442.7" cy="252.2" r="2.85"/><circle cx="409.3" cy="302.8" r="2.85"/><circle cx="510.1" cy="186.4" r="2.85"/><circle cx="425.4" cy="270.7" r="2.85"/><circle cx="500.6" cy="193.5" r="2.85"/><circle cx="578.5" cy="126.1" r="2.85"/><circle cx="540.4" cy="148.7" r="2.85"/><circle cx="434.0" cy="263.0" r="2.85"/><circle cx="534.0" cy="155.5" r="2.85"/><circle cx="413.1" cy="286.2" r="2.85"/><circle cx="479.5" cy="218.7" r="2.85"/><circle cx="472.7" cy="225.2" r="2.85"/><circle cx="471.1" cy="226.2" r="2.85"/><circle cx="408.1" cy="286.6" r="2.85"/><circle cx="418.9" cy="274.9" r="2.85"/><circle cx="410.9" cy="284.3" r="2.85"/><circle cx="462.1" cy="233.1" r="2.85"/><circle cx="483.2" cy="216.1" r="2.85"/><circle cx="513.0" cy="172.6" r="2.85"/><circle cx="465.2" cy="224.5" r="2.85"/><circle cx="423.0" cy="271.2" r="2.85"/><circle cx="409.1" cy="283.9" r="2.85"/><circle cx="407.0" cy="289.6" r="2.85"/><circle cx="488.2" cy="206.2" r="2.85"/><circle cx="589.1" cy="105.6" r="2.85"/><circle cx="648.4" cy="34.5" r="2.85"/><circle cx="493.6" cy="205.8" r="2.85"/><circle cx="409.4" cy="286.1" r="2.85"/><circle cx="411.1" cy="291.5" r="2.85"/><circle cx="453.5" cy="244.3" r="2.85"/><circle cx="450.1" cy="248.1" r="2.85"/><circle cx="408.4" cy="294.2" r="2.85"/><circle cx="405.9" cy="288.6" r="2.85"/><circle cx="540.6" cy="148.2" r="2.85"/><circle cx="476.7" cy="216.5" r="2.85"/><circle cx="552.7" cy="150.4" r="2.85"/><circle cx="606.6" cy="80.5" r="2.85"/><circle cx="486.7" cy="208.5" r="2.85"/><circle cx="453.1" cy="245.6" r="2.85"/><circle cx="489.5" cy="208.4" r="2.85"/><circle cx="491.9" cy="191.9" r="2.85"/><circle cx="547.4" cy="147.5" r="2.85"/><circle cx="492.5" cy="197.7" r="2.85"/><circle cx="420.5" cy="264.7" r="2.85"/><circle cx="466.7" cy="231.0" r="2.85"/><circle cx="411.4" cy="263.5" r="2.85"/><circle cx="450.8" cy="243.8" r="2.85"/><circle cx="452.5" cy="245.3" r="2.85"/><circle cx="410.0" cy="278.9" r="2.85"/><circle cx="484.4" cy="211.3" r="2.85"/><circle cx="487.5" cy="209.9" r="2.85"/><circle cx="458.5" cy="237.5" r="2.85"/><circle cx="405.7" cy="286.7" r="2.85"/><circle cx="645.5" cy="52.3" r="2.85"/><circle cx="408.5" cy="278.8" r="2.85"/><circle cx="422.8" cy="271.2" r="2.85"/><circle cx="453.1" cy="245.7" r="2.85"/><circle cx="435.2" cy="260.6" r="2.85"/><circle cx="482.0" cy="201.2" r="2.85"/><circle cx="483.0" cy="207.4" r="2.85"/><circle cx="410.0" cy="277.3" r="2.85"/><circle cx="449.6" cy="247.9" r="2.85"/><circle cx="430.3" cy="266.1" r="2.85"/><circle cx="428.5" cy="256.6" r="2.85"/><circle cx="457.3" cy="240.9" r="2.85"/><circle cx="567.4" cy="127.2" r="2.85"/><circle cx="586.7" cy="109.7" r="2.85"/><circle cx="431.5" cy="263.5" r="2.85"/><circle cx="421.9" cy="272.4" r="2.85"/><circle cx="457.2" cy="242.3" r="2.85"/><circle cx="465.0" cy="233.7" r="2.85"/><circle cx="610.5" cy="78.9" r="2.85"/><circle cx="418.8" cy="276.7" r="2.85"/><circle cx="464.5" cy="232.4" r="2.85"/><circle cx="484.3" cy="200.1" r="2.85"/><circle cx="414.0" cy="280.5" r="2.85"/><circle cx="549.7" cy="135.8" r="2.85"/><circle cx="407.2" cy="280.8" r="2.85"/><circle cx="417.3" cy="286.4" r="2.85"/><circle cx="409.6" cy="280.3" r="2.85"/><circle cx="606.3" cy="74.1" r="2.85"/><circle cx="406.4" cy="287.6" r="2.85"/><circle cx="551.1" cy="131.3" r="2.85"/><circle cx="506.5" cy="206.5" r="2.85"/><circle cx="410.8" cy="279.7" r="2.85"/><circle cx="518.8" cy="177.3" r="2.85"/></g>
<rect class="fr" x="390.5" y="19.4" width="286.8" height="285.6"/>
<text class="tk" x="404.2" y="317.0" text-anchor="middle">−1</text>
<text class="tk" x="472.1" y="317.0" text-anchor="middle">−0.5</text>
<text class="tk" x="541.5" y="317.0" text-anchor="middle">0</text>
<text class="tk" x="609.4" y="317.0" text-anchor="middle">0.5</text>
<text class="tk" x="677.3" y="317.0" text-anchor="middle">1</text>
<text class="tk" x="386.3" y="293.4" text-anchor="end">−1</text>
<text class="tk" x="386.3" y="266.3" text-anchor="end">−0.8</text>
<text class="tk" x="386.3" y="239.2" text-anchor="end">−0.6</text>
<text class="tk" x="386.3" y="212.2" text-anchor="end">−0.4</text>
<text class="tk" x="386.3" y="185.1" text-anchor="end">−0.2</text>
<text class="tk" x="387.0" y="158.0" text-anchor="end">0</text>
<text class="tk" x="387.0" y="130.9" text-anchor="end">0.2</text>
<text class="tk" x="387.0" y="103.8" text-anchor="end">0.4</text>
<text class="tk" x="387.0" y="76.8" text-anchor="end">0.6</text>
<text class="tk" x="387.0" y="49.7" text-anchor="end">0.8</text>
<text class="tk" x="387.0" y="22.6" text-anchor="end">1</text>
<path d="M405.7 305.0v-3M405.7 19.4v3M473.6 305.0v-3M473.6 19.4v3M541.5 305.0v-3M541.5 19.4v3M609.4 305.0v-3M609.4 19.4v3M677.3 305.0v-3M677.3 19.4v3M390.5 290.2h3M677.3 290.2h-3M390.5 263.1h3M677.3 263.1h-3M390.5 236.0h3M677.3 236.0h-3M390.5 209.0h3M677.3 209.0h-3M390.5 181.9h3M677.3 181.9h-3M390.5 154.8h3M677.3 154.8h-3M390.5 127.7h3M677.3 127.7h-3M390.5 100.6h3M677.3 100.6h-3M390.5 73.6h3M677.3 73.6h-3M390.5 46.5h3M677.3 46.5h-3M390.5 19.4h3M677.3 19.4h-3" stroke="#666" stroke-width="0.8" fill="none"/>
<text class="lb" x="531.6" y="330.0" text-anchor="middle">Target</text>
<text class="lb" style="font-size:11.3px" transform="translate(361.2 168.2) rotate(-90)" text-anchor="middle">Output ~= 0.99*Target + −0.0012</text>
<rect x="395.6" y="24.4" width="65.1" height="41.9" fill="#fff" stroke="#4d4d4d" stroke-width="1"/>
<circle cx="415.7" cy="32.4" r="2.95" fill="none" stroke="#1c1c1c" stroke-width="0.7"/>
<line x1="400.5" y1="45.1" x2="430.1" y2="45.1" stroke="#0808f4" stroke-width="2"/>
<line x1="400.6" y1="58.3" x2="430.1" y2="58.3" stroke="#777" stroke-width="0.6" stroke-dasharray="0.9 3.6"/>
<text class="lg" x="433.8" y="36.2">Data</text>
<text class="lg" x="433.8" y="49.5">Fit</text>
<text class="lg" x="433.8" y="62.3">Y = T</text>
</g>
<g>
<text class="lt" x="6.6" y="411.0">c</text>
<text class="ti" style="font-size:12px" x="175.9" y="406.0" text-anchor="middle">Total machinery cost: R<tspan dy="-4.3" font-size="8">2</tspan><tspan dy="4.3">=0.9950</tspan></text>
<clipPath id="clc"><rect x="36.4" y="409.0" width="298.1" height="297.4"/></clipPath>
<line x1="40.4" y1="702.4" x2="330.5" y2="415.0" stroke="#0808f4" stroke-width="2.2"/>
<g class="pt" clip-path="url(#clc)"><circle cx="78.8" cy="667.8" r="2.85"/><circle cx="58.8" cy="685.5" r="2.85"/><circle cx="54.0" cy="686.8" r="2.85"/><circle cx="144.2" cy="597.3" r="2.85"/><circle cx="91.4" cy="649.9" r="2.85"/><circle cx="148.2" cy="601.2" r="2.85"/><circle cx="69.6" cy="671.2" r="2.85"/><circle cx="61.0" cy="684.4" r="2.85"/><circle cx="53.2" cy="694.5" r="2.85"/><circle cx="179.8" cy="567.0" r="2.85"/><circle cx="71.7" cy="671.0" r="2.85"/><circle cx="77.3" cy="655.0" r="2.85"/><circle cx="68.4" cy="673.2" r="2.85"/><circle cx="232.6" cy="505.9" r="2.85"/><circle cx="110.4" cy="632.7" r="2.85"/><circle cx="115.6" cy="628.4" r="2.85"/><circle cx="187.7" cy="548.6" r="2.85"/><circle cx="125.4" cy="618.8" r="2.85"/><circle cx="294.5" cy="446.5" r="2.85"/><circle cx="200.1" cy="542.7" r="2.85"/><circle cx="96.9" cy="645.8" r="2.85"/><circle cx="168.9" cy="572.2" r="2.85"/><circle cx="218.6" cy="531.6" r="2.85"/><circle cx="93.6" cy="648.8" r="2.85"/><circle cx="81.7" cy="673.0" r="2.85"/><circle cx="55.7" cy="686.6" r="2.85"/><circle cx="54.3" cy="690.4" r="2.85"/><circle cx="108.9" cy="633.3" r="2.85"/><circle cx="60.6" cy="680.7" r="2.85"/><circle cx="200.5" cy="539.2" r="2.85"/><circle cx="93.5" cy="648.6" r="2.85"/><circle cx="128.4" cy="600.9" r="2.85"/><circle cx="70.8" cy="673.4" r="2.85"/><circle cx="136.4" cy="604.3" r="2.85"/><circle cx="79.7" cy="666.4" r="2.85"/><circle cx="138.5" cy="607.6" r="2.85"/><circle cx="202.8" cy="536.8" r="2.85"/><circle cx="86.9" cy="656.0" r="2.85"/><circle cx="94.5" cy="651.4" r="2.85"/><circle cx="103.7" cy="640.5" r="2.85"/><circle cx="176.8" cy="564.6" r="2.85"/><circle cx="53.8" cy="685.4" r="2.85"/><circle cx="64.4" cy="678.7" r="2.85"/><circle cx="218.6" cy="533.9" r="2.85"/><circle cx="230.3" cy="524.0" r="2.85"/><circle cx="62.1" cy="681.6" r="2.85"/><circle cx="123.9" cy="619.7" r="2.85"/><circle cx="57.1" cy="682.4" r="2.85"/><circle cx="95.7" cy="645.8" r="2.85"/><circle cx="206.4" cy="538.0" r="2.85"/><circle cx="133.0" cy="607.0" r="2.85"/><circle cx="260.7" cy="477.3" r="2.85"/><circle cx="105.4" cy="635.9" r="2.85"/><circle cx="269.4" cy="466.8" r="2.85"/><circle cx="143.0" cy="594.0" r="2.85"/><circle cx="115.6" cy="629.1" r="2.85"/><circle cx="77.8" cy="664.2" r="2.85"/><circle cx="181.1" cy="552.6" r="2.85"/><circle cx="57.4" cy="681.6" r="2.85"/><circle cx="104.8" cy="637.7" r="2.85"/><circle cx="127.9" cy="606.5" r="2.85"/><circle cx="59.8" cy="679.3" r="2.85"/><circle cx="55.9" cy="686.1" r="2.85"/><circle cx="234.4" cy="504.1" r="2.85"/><circle cx="81.6" cy="661.3" r="2.85"/><circle cx="78.5" cy="664.4" r="2.85"/><circle cx="58.4" cy="681.7" r="2.85"/><circle cx="202.8" cy="536.2" r="2.85"/><circle cx="140.8" cy="611.7" r="2.85"/><circle cx="78.9" cy="660.4" r="2.85"/><circle cx="142.0" cy="601.0" r="2.85"/><circle cx="55.7" cy="683.8" r="2.85"/><circle cx="127.6" cy="617.3" r="2.85"/><circle cx="66.2" cy="674.4" r="2.85"/><circle cx="74.1" cy="672.4" r="2.85"/><circle cx="102.5" cy="641.1" r="2.85"/><circle cx="55.7" cy="683.3" r="2.85"/><circle cx="223.6" cy="511.9" r="2.85"/><circle cx="99.7" cy="645.6" r="2.85"/><circle cx="179.6" cy="563.1" r="2.85"/><circle cx="61.4" cy="683.8" r="2.85"/><circle cx="102.6" cy="642.2" r="2.85"/><circle cx="256.0" cy="479.6" r="2.85"/><circle cx="57.8" cy="680.6" r="2.85"/><circle cx="55.6" cy="685.0" r="2.85"/><circle cx="256.0" cy="485.4" r="2.85"/><circle cx="122.8" cy="620.0" r="2.85"/><circle cx="65.9" cy="677.8" r="2.85"/><circle cx="86.4" cy="655.9" r="2.85"/><circle cx="290.0" cy="453.2" r="2.85"/><circle cx="253.6" cy="480.8" r="2.85"/><circle cx="114.4" cy="629.9" r="2.85"/><circle cx="74.4" cy="669.5" r="2.85"/><circle cx="248.2" cy="507.0" r="2.85"/><circle cx="85.2" cy="659.1" r="2.85"/><circle cx="165.3" cy="588.1" r="2.85"/><circle cx="90.2" cy="649.1" r="2.85"/><circle cx="69.2" cy="672.4" r="2.85"/><circle cx="160.7" cy="566.4" r="2.85"/><circle cx="78.7" cy="664.7" r="2.85"/><circle cx="239.1" cy="517.6" r="2.85"/><circle cx="74.9" cy="670.8" r="2.85"/><circle cx="97.5" cy="647.4" r="2.85"/><circle cx="58.9" cy="681.4" r="2.85"/><circle cx="84.3" cy="658.8" r="2.85"/><circle cx="98.7" cy="645.2" r="2.85"/><circle cx="58.3" cy="686.8" r="2.85"/><circle cx="173.2" cy="594.0" r="2.85"/><circle cx="57.0" cy="688.2" r="2.85"/><circle cx="123.5" cy="618.7" r="2.85"/><circle cx="311.6" cy="425.4" r="2.85"/><circle cx="301.9" cy="431.5" r="2.85"/><circle cx="162.0" cy="581.5" r="2.85"/><circle cx="131.8" cy="610.9" r="2.85"/><circle cx="62.9" cy="679.5" r="2.85"/><circle cx="118.9" cy="627.5" r="2.85"/><circle cx="111.1" cy="623.7" r="2.85"/><circle cx="81.8" cy="661.6" r="2.85"/><circle cx="171.2" cy="592.0" r="2.85"/><circle cx="60.2" cy="684.9" r="2.85"/><circle cx="57.4" cy="684.6" r="2.85"/><circle cx="256.6" cy="493.6" r="2.85"/><circle cx="72.3" cy="669.3" r="2.85"/><circle cx="117.7" cy="627.9" r="2.85"/><circle cx="244.3" cy="501.2" r="2.85"/><circle cx="84.2" cy="656.3" r="2.85"/><circle cx="55.1" cy="686.9" r="2.85"/><circle cx="84.3" cy="656.8" r="2.85"/><circle cx="263.0" cy="476.1" r="2.85"/><circle cx="124.4" cy="621.2" r="2.85"/><circle cx="159.0" cy="585.0" r="2.85"/><circle cx="101.0" cy="641.1" r="2.85"/><circle cx="84.5" cy="657.5" r="2.85"/><circle cx="55.8" cy="685.2" r="2.85"/><circle cx="54.2" cy="689.3" r="2.85"/><circle cx="230.9" cy="507.6" r="2.85"/><circle cx="120.9" cy="622.5" r="2.85"/><circle cx="57.5" cy="688.0" r="2.85"/><circle cx="57.1" cy="686.7" r="2.85"/><circle cx="94.0" cy="647.6" r="2.85"/><circle cx="64.3" cy="677.8" r="2.85"/><circle cx="185.2" cy="556.5" r="2.85"/><circle cx="185.9" cy="558.6" r="2.85"/><circle cx="269.2" cy="466.3" r="2.85"/><circle cx="70.4" cy="674.7" r="2.85"/><circle cx="123.4" cy="619.8" r="2.85"/><circle cx="69.3" cy="672.7" r="2.85"/><circle cx="54.9" cy="696.0" r="2.85"/><circle cx="74.0" cy="668.3" r="2.85"/><circle cx="110.8" cy="632.9" r="2.85"/><circle cx="132.6" cy="610.7" r="2.85"/><circle cx="64.3" cy="679.3" r="2.85"/><circle cx="74.4" cy="670.6" r="2.85"/><circle cx="258.3" cy="478.4" r="2.85"/><circle cx="205.5" cy="527.5" r="2.85"/><circle cx="95.7" cy="649.0" r="2.85"/><circle cx="205.4" cy="527.6" r="2.85"/><circle cx="80.7" cy="660.7" r="2.85"/><circle cx="116.3" cy="628.0" r="2.85"/><circle cx="122.6" cy="610.4" r="2.85"/><circle cx="242.3" cy="482.3" r="2.85"/><circle cx="118.8" cy="624.4" r="2.85"/><circle cx="137.1" cy="605.1" r="2.85"/><circle cx="60.0" cy="680.4" r="2.85"/><circle cx="53.5" cy="693.5" r="2.85"/><circle cx="134.5" cy="603.8" r="2.85"/><circle cx="126.8" cy="614.6" r="2.85"/><circle cx="58.5" cy="683.5" r="2.85"/><circle cx="65.2" cy="676.4" r="2.85"/><circle cx="56.1" cy="685.4" r="2.85"/><circle cx="52.9" cy="691.2" r="2.85"/><circle cx="128.2" cy="617.5" r="2.85"/><circle cx="77.5" cy="663.5" r="2.85"/><circle cx="188.0" cy="559.6" r="2.85"/><circle cx="144.8" cy="597.6" r="2.85"/><circle cx="151.9" cy="578.9" r="2.85"/><circle cx="161.4" cy="575.6" r="2.85"/><circle cx="68.3" cy="673.5" r="2.85"/><circle cx="174.5" cy="571.6" r="2.85"/><circle cx="196.4" cy="543.2" r="2.85"/><circle cx="97.7" cy="643.5" r="2.85"/><circle cx="60.6" cy="681.7" r="2.85"/><circle cx="124.1" cy="618.9" r="2.85"/><circle cx="78.7" cy="664.0" r="2.85"/><circle cx="72.1" cy="670.2" r="2.85"/><circle cx="179.8" cy="559.8" r="2.85"/><circle cx="55.9" cy="680.3" r="2.85"/><circle cx="114.2" cy="627.4" r="2.85"/><circle cx="139.7" cy="610.4" r="2.85"/><circle cx="110.7" cy="632.1" r="2.85"/><circle cx="203.4" cy="547.3" r="2.85"/><circle cx="131.7" cy="612.0" r="2.85"/><circle cx="85.8" cy="656.4" r="2.85"/><circle cx="53.6" cy="692.5" r="2.85"/><circle cx="168.1" cy="574.3" r="2.85"/><circle cx="60.3" cy="680.4" r="2.85"/><circle cx="100.9" cy="642.9" r="2.85"/><circle cx="67.8" cy="671.3" r="2.85"/><circle cx="57.3" cy="691.3" r="2.85"/><circle cx="74.7" cy="669.4" r="2.85"/><circle cx="104.5" cy="638.5" r="2.85"/><circle cx="147.2" cy="597.1" r="2.85"/><circle cx="78.3" cy="665.0" r="2.85"/><circle cx="55.8" cy="686.6" r="2.85"/><circle cx="79.5" cy="664.7" r="2.85"/><circle cx="237.9" cy="517.0" r="2.85"/><circle cx="262.4" cy="495.6" r="2.85"/><circle cx="68.3" cy="672.2" r="2.85"/><circle cx="185.7" cy="562.4" r="2.85"/><circle cx="210.4" cy="518.7" r="2.85"/><circle cx="57.8" cy="687.9" r="2.85"/><circle cx="142.4" cy="600.1" r="2.85"/><circle cx="155.5" cy="582.8" r="2.85"/><circle cx="75.4" cy="666.4" r="2.85"/><circle cx="118.1" cy="626.5" r="2.85"/><circle cx="320.4" cy="431.3" r="2.85"/><circle cx="197.5" cy="555.9" r="2.85"/><circle cx="98.8" cy="644.1" r="2.85"/><circle cx="114.3" cy="626.8" r="2.85"/><circle cx="189.1" cy="555.4" r="2.85"/><circle cx="330.1" cy="414.3" r="2.85"/><circle cx="150.2" cy="607.8" r="2.85"/><circle cx="186.4" cy="544.1" r="2.85"/><circle cx="111.7" cy="633.4" r="2.85"/><circle cx="93.3" cy="650.4" r="2.85"/><circle cx="55.2" cy="687.0" r="2.85"/><circle cx="198.2" cy="540.9" r="2.85"/><circle cx="173.9" cy="576.2" r="2.85"/><circle cx="73.0" cy="670.2" r="2.85"/><circle cx="56.6" cy="688.5" r="2.85"/><circle cx="119.0" cy="624.6" r="2.85"/><circle cx="168.6" cy="590.0" r="2.85"/><circle cx="141.2" cy="600.0" r="2.85"/><circle cx="75.3" cy="666.1" r="2.85"/><circle cx="230.3" cy="512.9" r="2.85"/><circle cx="60.5" cy="682.4" r="2.85"/><circle cx="101.9" cy="643.9" r="2.85"/><circle cx="144.2" cy="600.5" r="2.85"/><circle cx="56.7" cy="685.6" r="2.85"/><circle cx="211.0" cy="521.1" r="2.85"/><circle cx="58.7" cy="682.8" r="2.85"/><circle cx="102.1" cy="637.2" r="2.85"/><circle cx="74.9" cy="669.7" r="2.85"/><circle cx="293.0" cy="439.1" r="2.85"/><circle cx="58.1" cy="669.8" r="2.85"/><circle cx="123.3" cy="618.5" r="2.85"/><circle cx="118.9" cy="623.1" r="2.85"/><circle cx="266.5" cy="474.3" r="2.85"/><circle cx="131.8" cy="609.1" r="2.85"/><circle cx="100.3" cy="640.0" r="2.85"/><circle cx="59.5" cy="683.4" r="2.85"/><circle cx="116.8" cy="629.7" r="2.85"/><circle cx="54.1" cy="685.8" r="2.85"/><circle cx="97.1" cy="647.5" r="2.85"/><circle cx="124.5" cy="618.2" r="2.85"/><circle cx="105.6" cy="637.7" r="2.85"/><circle cx="251.9" cy="481.9" r="2.85"/><circle cx="59.8" cy="684.6" r="2.85"/><circle cx="211.6" cy="525.7" r="2.85"/><circle cx="119.4" cy="623.4" r="2.85"/><circle cx="248.4" cy="504.1" r="2.85"/><circle cx="122.3" cy="619.9" r="2.85"/><circle cx="77.4" cy="666.0" r="2.85"/><circle cx="57.2" cy="685.5" r="2.85"/><circle cx="130.5" cy="614.6" r="2.85"/><circle cx="115.8" cy="628.5" r="2.85"/><circle cx="94.2" cy="650.2" r="2.85"/><circle cx="124.7" cy="626.1" r="2.85"/><circle cx="82.1" cy="659.9" r="2.85"/><circle cx="121.1" cy="621.8" r="2.85"/><circle cx="53.3" cy="686.7" r="2.85"/><circle cx="60.9" cy="678.5" r="2.85"/><circle cx="148.9" cy="596.2" r="2.85"/><circle cx="144.3" cy="591.4" r="2.85"/><circle cx="128.5" cy="600.5" r="2.85"/><circle cx="146.9" cy="597.3" r="2.85"/><circle cx="63.1" cy="679.0" r="2.85"/><circle cx="110.5" cy="630.2" r="2.85"/><circle cx="189.2" cy="551.8" r="2.85"/><circle cx="162.1" cy="581.9" r="2.85"/><circle cx="55.0" cy="680.2" r="2.85"/><circle cx="92.7" cy="648.9" r="2.85"/><circle cx="82.4" cy="662.8" r="2.85"/><circle cx="121.5" cy="610.9" r="2.85"/><circle cx="113.3" cy="633.3" r="2.85"/><circle cx="86.4" cy="656.3" r="2.85"/><circle cx="58.5" cy="682.6" r="2.85"/><circle cx="64.3" cy="677.8" r="2.85"/><circle cx="129.7" cy="613.6" r="2.85"/><circle cx="54.8" cy="689.6" r="2.85"/><circle cx="76.3" cy="666.6" r="2.85"/><circle cx="134.4" cy="616.5" r="2.85"/><circle cx="56.5" cy="683.0" r="2.85"/><circle cx="54.0" cy="687.3" r="2.85"/><circle cx="60.9" cy="678.4" r="2.85"/><circle cx="61.3" cy="690.8" r="2.85"/><circle cx="59.1" cy="682.6" r="2.85"/><circle cx="59.2" cy="683.0" r="2.85"/><circle cx="280.9" cy="484.2" r="2.85"/><circle cx="132.9" cy="611.6" r="2.85"/><circle cx="252.5" cy="498.3" r="2.85"/><circle cx="89.5" cy="650.5" r="2.85"/><circle cx="266.7" cy="475.1" r="2.85"/><circle cx="57.5" cy="684.2" r="2.85"/><circle cx="123.9" cy="606.5" r="2.85"/><circle cx="107.8" cy="634.3" r="2.85"/><circle cx="217.7" cy="517.0" r="2.85"/><circle cx="198.8" cy="540.8" r="2.85"/><circle cx="256.8" cy="479.2" r="2.85"/><circle cx="158.8" cy="605.1" r="2.85"/><circle cx="68.5" cy="662.6" r="2.85"/><circle cx="54.1" cy="685.1" r="2.85"/><circle cx="105.3" cy="636.2" r="2.85"/><circle cx="57.2" cy="684.5" r="2.85"/><circle cx="168.0" cy="576.9" r="2.85"/><circle cx="61.3" cy="684.4" r="2.85"/><circle cx="167.5" cy="577.0" r="2.85"/><circle cx="70.9" cy="670.4" r="2.85"/><circle cx="88.1" cy="653.2" r="2.85"/><circle cx="138.8" cy="605.1" r="2.85"/><circle cx="90.2" cy="653.5" r="2.85"/><circle cx="79.4" cy="664.1" r="2.85"/><circle cx="135.6" cy="608.2" r="2.85"/><circle cx="58.2" cy="684.2" r="2.85"/><circle cx="135.8" cy="609.6" r="2.85"/><circle cx="138.9" cy="601.2" r="2.85"/><circle cx="166.4" cy="580.4" r="2.85"/><circle cx="148.8" cy="596.2" r="2.85"/><circle cx="139.3" cy="604.1" r="2.85"/><circle cx="151.5" cy="590.7" r="2.85"/><circle cx="75.8" cy="666.9" r="2.85"/><circle cx="142.7" cy="598.8" r="2.85"/><circle cx="323.6" cy="439.1" r="2.85"/><circle cx="229.7" cy="509.4" r="2.85"/><circle cx="139.7" cy="601.8" r="2.85"/><circle cx="64.5" cy="675.5" r="2.85"/><circle cx="53.7" cy="690.5" r="2.85"/><circle cx="111.1" cy="629.4" r="2.85"/><circle cx="141.0" cy="606.9" r="2.85"/><circle cx="116.7" cy="626.8" r="2.85"/><circle cx="64.6" cy="679.0" r="2.85"/><circle cx="84.2" cy="657.0" r="2.85"/><circle cx="90.3" cy="652.4" r="2.85"/><circle cx="90.6" cy="654.5" r="2.85"/><circle cx="66.4" cy="678.3" r="2.85"/><circle cx="227.4" cy="490.5" r="2.85"/><circle cx="109.5" cy="633.1" r="2.85"/><circle cx="218.0" cy="529.2" r="2.85"/><circle cx="164.7" cy="574.3" r="2.85"/><circle cx="113.6" cy="633.6" r="2.85"/><circle cx="61.2" cy="681.7" r="2.85"/><circle cx="53.5" cy="682.4" r="2.85"/><circle cx="77.7" cy="663.8" r="2.85"/><circle cx="114.6" cy="629.1" r="2.85"/><circle cx="107.2" cy="634.6" r="2.85"/><circle cx="122.6" cy="621.9" r="2.85"/><circle cx="152.8" cy="588.1" r="2.85"/><circle cx="58.8" cy="678.4" r="2.85"/><circle cx="80.5" cy="663.1" r="2.85"/><circle cx="75.5" cy="665.9" r="2.85"/><circle cx="57.4" cy="683.0" r="2.85"/><circle cx="78.4" cy="664.4" r="2.85"/><circle cx="56.5" cy="684.2" r="2.85"/><circle cx="262.6" cy="475.7" r="2.85"/><circle cx="76.6" cy="665.6" r="2.85"/><circle cx="57.2" cy="681.1" r="2.85"/><circle cx="103.1" cy="637.9" r="2.85"/><circle cx="177.2" cy="564.4" r="2.85"/><circle cx="259.7" cy="478.0" r="2.85"/><circle cx="160.7" cy="586.8" r="2.85"/><circle cx="81.1" cy="662.1" r="2.85"/><circle cx="70.6" cy="672.8" r="2.85"/><circle cx="93.7" cy="651.3" r="2.85"/><circle cx="103.4" cy="638.3" r="2.85"/><circle cx="135.8" cy="606.2" r="2.85"/><circle cx="57.5" cy="676.8" r="2.85"/><circle cx="57.0" cy="688.2" r="2.85"/><circle cx="92.6" cy="651.3" r="2.85"/><circle cx="122.7" cy="619.9" r="2.85"/><circle cx="59.2" cy="676.8" r="2.85"/><circle cx="55.8" cy="685.0" r="2.85"/><circle cx="135.0" cy="609.8" r="2.85"/><circle cx="176.1" cy="565.4" r="2.85"/><circle cx="114.2" cy="629.0" r="2.85"/><circle cx="244.3" cy="511.1" r="2.85"/><circle cx="176.2" cy="566.3" r="2.85"/><circle cx="118.6" cy="626.3" r="2.85"/><circle cx="58.1" cy="699.2" r="2.85"/><circle cx="244.7" cy="491.9" r="2.85"/><circle cx="109.9" cy="633.4" r="2.85"/><circle cx="82.0" cy="662.3" r="2.85"/><circle cx="250.1" cy="498.9" r="2.85"/><circle cx="65.7" cy="677.5" r="2.85"/><circle cx="142.8" cy="600.3" r="2.85"/><circle cx="126.6" cy="611.1" r="2.85"/><circle cx="60.2" cy="685.9" r="2.85"/><circle cx="74.1" cy="670.5" r="2.85"/><circle cx="128.7" cy="621.3" r="2.85"/><circle cx="68.9" cy="672.5" r="2.85"/><circle cx="119.1" cy="627.3" r="2.85"/><circle cx="229.1" cy="521.1" r="2.85"/><circle cx="55.4" cy="687.4" r="2.85"/><circle cx="67.4" cy="677.5" r="2.85"/><circle cx="135.3" cy="606.2" r="2.85"/><circle cx="60.6" cy="683.1" r="2.85"/><circle cx="72.7" cy="669.0" r="2.85"/><circle cx="305.0" cy="454.1" r="2.85"/><circle cx="67.9" cy="674.9" r="2.85"/><circle cx="131.3" cy="610.3" r="2.85"/><circle cx="78.3" cy="662.0" r="2.85"/><circle cx="56.9" cy="677.5" r="2.85"/></g>
<rect class="fr" x="40.4" y="413.0" width="290.1" height="289.4"/>
<text class="tk" x="51.3" y="714.0" text-anchor="middle">−1</text>
<text class="tk" x="120.7" y="714.0" text-anchor="middle">−0.5</text>
<text class="tk" x="191.6" y="714.0" text-anchor="middle">0</text>
<text class="tk" x="261.1" y="714.0" text-anchor="middle">0.5</text>
<text class="tk" x="330.5" y="714.0" text-anchor="middle">1</text>
<text class="tk" x="36.2" y="692.7" text-anchor="end">−1</text>
<text class="tk" x="36.2" y="665.1" text-anchor="end">−0.8</text>
<text class="tk" x="36.2" y="637.4" text-anchor="end">−0.6</text>
<text class="tk" x="36.2" y="609.8" text-anchor="end">−0.4</text>
<text class="tk" x="36.2" y="582.1" text-anchor="end">−0.2</text>
<text class="tk" x="36.9" y="554.5" text-anchor="end">0</text>
<text class="tk" x="36.9" y="526.8" text-anchor="end">0.2</text>
<text class="tk" x="36.9" y="499.1" text-anchor="end">0.4</text>
<text class="tk" x="36.9" y="471.5" text-anchor="end">0.6</text>
<text class="tk" x="36.9" y="443.8" text-anchor="end">0.8</text>
<text class="tk" x="36.9" y="416.2" text-anchor="end">1</text>
<path d="M52.8 702.4v-3M52.8 413.0v3M122.2 702.4v-3M122.2 413.0v3M191.6 702.4v-3M191.6 413.0v3M261.1 702.4v-3M261.1 413.0v3M330.5 702.4v-3M330.5 413.0v3M40.4 689.5h3M330.5 689.5h-3M40.4 661.9h3M330.5 661.9h-3M40.4 634.2h3M330.5 634.2h-3M40.4 606.5h3M330.5 606.5h-3M40.4 578.9h3M330.5 578.9h-3M40.4 551.2h3M330.5 551.2h-3M40.4 523.6h3M330.5 523.6h-3M40.4 495.9h3M330.5 495.9h-3M40.4 468.3h3M330.5 468.3h-3M40.4 440.6h3M330.5 440.6h-3M40.4 413.0h3M330.5 413.0h-3" stroke="#666" stroke-width="0.8" fill="none"/>
<text class="lb" x="182.3" y="728.0" text-anchor="middle">Target</text>
<text class="lb" style="font-size:11.95px" transform="translate(11.1 567.0) rotate(-90)" text-anchor="middle">Output ~= 0.99*Target + −0.0054</text>
<rect x="45.6" y="418.4" width="66.5" height="41.9" fill="#fff" stroke="#4d4d4d" stroke-width="1"/>
<circle cx="65.7" cy="426.4" r="2.95" fill="none" stroke="#1c1c1c" stroke-width="0.7"/>
<line x1="50.5" y1="439.1" x2="80.1" y2="439.1" stroke="#0808f4" stroke-width="2"/>
<line x1="50.6" y1="452.3" x2="80.1" y2="452.3" stroke="#777" stroke-width="0.6" stroke-dasharray="0.9 3.6"/>
<text class="lg" x="83.9" y="430.2">Data</text>
<text class="lg" x="83.9" y="443.5">Fit</text>
<text class="lg" x="83.9" y="456.3">Y = T</text>
</g>
<g>
<text class="lt" x="355.0" y="414.8">d</text>
<text class="ti" style="font-size:11.9px" x="521.8" y="405.7" text-anchor="middle">Total machinery energy: R<tspan dy="-4.3" font-size="8">2</tspan><tspan dy="4.3">=0.9976</tspan></text>
<clipPath id="cld"><rect x="386.9" y="408.7" width="296.6" height="295.6"/></clipPath>
<line x1="390.9" y1="700.3" x2="679.5" y2="414.3" stroke="#0808f4" stroke-width="2.2"/>
<g class="pt" clip-path="url(#cld)"><circle cx="444.2" cy="648.8" r="2.85"/><circle cx="477.9" cy="603.8" r="2.85"/><circle cx="430.4" cy="660.7" r="2.85"/><circle cx="444.4" cy="648.8" r="2.85"/><circle cx="403.5" cy="681.7" r="2.85"/><circle cx="540.9" cy="542.7" r="2.85"/><circle cx="430.2" cy="662.7" r="2.85"/><circle cx="472.1" cy="621.6" r="2.85"/><circle cx="406.4" cy="682.6" r="2.85"/><circle cx="488.4" cy="602.5" r="2.85"/><circle cx="545.3" cy="538.0" r="2.85"/><circle cx="407.8" cy="697.7" r="2.85"/><circle cx="408.6" cy="683.5" r="2.85"/><circle cx="446.3" cy="644.6" r="2.85"/><circle cx="485.5" cy="603.7" r="2.85"/><circle cx="490.6" cy="604.5" r="2.85"/><circle cx="457.4" cy="633.0" r="2.85"/><circle cx="403.8" cy="690.9" r="2.85"/><circle cx="406.8" cy="682.3" r="2.85"/><circle cx="470.3" cy="621.6" r="2.85"/><circle cx="413.3" cy="680.6" r="2.85"/><circle cx="495.6" cy="589.4" r="2.85"/><circle cx="424.5" cy="665.3" r="2.85"/><circle cx="408.0" cy="678.0" r="2.85"/><circle cx="459.0" cy="630.7" r="2.85"/><circle cx="573.3" cy="522.2" r="2.85"/><circle cx="591.4" cy="505.3" r="2.85"/><circle cx="446.8" cy="643.9" r="2.85"/><circle cx="486.4" cy="605.2" r="2.85"/><circle cx="454.9" cy="635.8" r="2.85"/><circle cx="407.1" cy="677.5" r="2.85"/><circle cx="446.8" cy="645.0" r="2.85"/><circle cx="420.6" cy="667.1" r="2.85"/><circle cx="410.5" cy="674.7" r="2.85"/><circle cx="430.8" cy="659.8" r="2.85"/><circle cx="457.1" cy="633.2" r="2.85"/><circle cx="565.1" cy="524.6" r="2.85"/><circle cx="516.0" cy="582.8" r="2.85"/><circle cx="415.7" cy="672.5" r="2.85"/><circle cx="462.0" cy="629.1" r="2.85"/><circle cx="659.9" cy="446.1" r="2.85"/><circle cx="412.0" cy="677.8" r="2.85"/><circle cx="520.6" cy="564.4" r="2.85"/><circle cx="407.2" cy="682.8" r="2.85"/><circle cx="483.1" cy="605.1" r="2.85"/><circle cx="434.8" cy="656.1" r="2.85"/><circle cx="436.2" cy="657.0" r="2.85"/><circle cx="490.0" cy="602.2" r="2.85"/><circle cx="411.3" cy="692.8" r="2.85"/><circle cx="407.9" cy="684.2" r="2.85"/><circle cx="406.6" cy="682.4" r="2.85"/><circle cx="441.6" cy="650.7" r="2.85"/><circle cx="559.3" cy="526.3" r="2.85"/><circle cx="443.8" cy="648.7" r="2.85"/><circle cx="413.1" cy="678.9" r="2.85"/><circle cx="405.9" cy="691.6" r="2.85"/><circle cx="497.4" cy="594.2" r="2.85"/><circle cx="406.3" cy="685.4" r="2.85"/><circle cx="494.4" cy="597.2" r="2.85"/><circle cx="406.2" cy="683.9" r="2.85"/><circle cx="487.1" cy="609.1" r="2.85"/><circle cx="488.4" cy="611.7" r="2.85"/><circle cx="650.9" cy="429.2" r="2.85"/><circle cx="542.9" cy="555.2" r="2.85"/><circle cx="489.5" cy="602.7" r="2.85"/><circle cx="404.8" cy="682.1" r="2.85"/><circle cx="468.6" cy="624.0" r="2.85"/><circle cx="464.4" cy="628.8" r="2.85"/><circle cx="450.1" cy="642.1" r="2.85"/><circle cx="497.6" cy="607.1" r="2.85"/><circle cx="458.2" cy="632.6" r="2.85"/><circle cx="444.6" cy="646.9" r="2.85"/><circle cx="405.8" cy="684.3" r="2.85"/><circle cx="415.0" cy="686.0" r="2.85"/><circle cx="403.1" cy="680.5" r="2.85"/><circle cx="470.6" cy="621.1" r="2.85"/><circle cx="420.8" cy="670.9" r="2.85"/><circle cx="418.5" cy="676.7" r="2.85"/><circle cx="464.8" cy="625.7" r="2.85"/><circle cx="410.7" cy="677.2" r="2.85"/><circle cx="451.0" cy="637.1" r="2.85"/><circle cx="435.9" cy="655.3" r="2.85"/><circle cx="440.1" cy="653.0" r="2.85"/><circle cx="450.5" cy="640.1" r="2.85"/><circle cx="495.7" cy="594.2" r="2.85"/><circle cx="468.3" cy="624.0" r="2.85"/><circle cx="612.0" cy="472.2" r="2.85"/><circle cx="517.3" cy="572.3" r="2.85"/><circle cx="419.2" cy="672.2" r="2.85"/><circle cx="458.8" cy="632.5" r="2.85"/><circle cx="584.4" cy="515.8" r="2.85"/><circle cx="503.1" cy="587.5" r="2.85"/><circle cx="404.1" cy="684.7" r="2.85"/><circle cx="559.3" cy="525.7" r="2.85"/><circle cx="474.1" cy="618.3" r="2.85"/><circle cx="404.2" cy="681.6" r="2.85"/><circle cx="448.0" cy="643.6" r="2.85"/><circle cx="419.9" cy="672.6" r="2.85"/><circle cx="470.2" cy="621.7" r="2.85"/><circle cx="424.7" cy="667.7" r="2.85"/><circle cx="619.4" cy="470.3" r="2.85"/><circle cx="435.6" cy="652.2" r="2.85"/><circle cx="605.4" cy="492.4" r="2.85"/><circle cx="403.9" cy="690.8" r="2.85"/><circle cx="426.8" cy="662.6" r="2.85"/><circle cx="464.6" cy="626.7" r="2.85"/><circle cx="499.2" cy="591.9" r="2.85"/><circle cx="426.5" cy="665.2" r="2.85"/><circle cx="423.7" cy="666.0" r="2.85"/><circle cx="438.7" cy="653.9" r="2.85"/><circle cx="433.4" cy="659.1" r="2.85"/><circle cx="479.9" cy="599.9" r="2.85"/><circle cx="664.3" cy="440.0" r="2.85"/><circle cx="610.7" cy="472.6" r="2.85"/><circle cx="454.9" cy="637.8" r="2.85"/><circle cx="415.3" cy="673.4" r="2.85"/><circle cx="556.7" cy="541.4" r="2.85"/><circle cx="409.7" cy="678.5" r="2.85"/><circle cx="479.9" cy="609.1" r="2.85"/><circle cx="414.0" cy="679.0" r="2.85"/><circle cx="487.9" cy="608.2" r="2.85"/><circle cx="619.0" cy="475.1" r="2.85"/><circle cx="407.5" cy="684.7" r="2.85"/><circle cx="484.4" cy="599.6" r="2.85"/><circle cx="461.2" cy="626.9" r="2.85"/><circle cx="440.0" cy="650.4" r="2.85"/><circle cx="457.0" cy="633.2" r="2.85"/><circle cx="436.8" cy="657.8" r="2.85"/><circle cx="475.7" cy="618.4" r="2.85"/><circle cx="423.0" cy="669.1" r="2.85"/><circle cx="461.5" cy="628.8" r="2.85"/><circle cx="527.8" cy="565.1" r="2.85"/><circle cx="460.6" cy="631.9" r="2.85"/><circle cx="406.7" cy="685.8" r="2.85"/><circle cx="455.0" cy="635.0" r="2.85"/><circle cx="497.2" cy="594.4" r="2.85"/><circle cx="513.1" cy="580.7" r="2.85"/><circle cx="424.7" cy="666.5" r="2.85"/><circle cx="563.9" cy="522.2" r="2.85"/><circle cx="507.4" cy="588.7" r="2.85"/><circle cx="604.8" cy="495.4" r="2.85"/><circle cx="483.5" cy="616.5" r="2.85"/><circle cx="458.3" cy="630.9" r="2.85"/><circle cx="461.1" cy="628.3" r="2.85"/><circle cx="430.9" cy="661.8" r="2.85"/><circle cx="406.1" cy="681.2" r="2.85"/><circle cx="429.5" cy="659.1" r="2.85"/><circle cx="441.0" cy="653.1" r="2.85"/><circle cx="407.8" cy="683.4" r="2.85"/><circle cx="453.8" cy="643.8" r="2.85"/><circle cx="410.1" cy="680.3" r="2.85"/><circle cx="403.7" cy="682.5" r="2.85"/><circle cx="462.6" cy="628.2" r="2.85"/><circle cx="674.8" cy="414.6" r="2.85"/><circle cx="411.0" cy="683.4" r="2.85"/><circle cx="421.2" cy="671.1" r="2.85"/><circle cx="421.7" cy="671.8" r="2.85"/><circle cx="589.1" cy="497.7" r="2.85"/><circle cx="447.6" cy="641.4" r="2.85"/><circle cx="600.7" cy="487.2" r="2.85"/><circle cx="405.8" cy="686.0" r="2.85"/><circle cx="445.8" cy="649.1" r="2.85"/><circle cx="404.7" cy="688.1" r="2.85"/><circle cx="442.5" cy="648.0" r="2.85"/><circle cx="457.8" cy="632.7" r="2.85"/><circle cx="413.0" cy="678.2" r="2.85"/><circle cx="527.7" cy="563.5" r="2.85"/><circle cx="559.3" cy="536.2" r="2.85"/><circle cx="405.0" cy="684.0" r="2.85"/><circle cx="505.5" cy="582.8" r="2.85"/><circle cx="429.4" cy="673.0" r="2.85"/><circle cx="407.6" cy="680.7" r="2.85"/><circle cx="451.4" cy="640.5" r="2.85"/><circle cx="420.9" cy="671.0" r="2.85"/><circle cx="575.0" cy="519.9" r="2.85"/><circle cx="473.9" cy="614.8" r="2.85"/><circle cx="517.7" cy="574.7" r="2.85"/><circle cx="447.3" cy="645.3" r="2.85"/><circle cx="495.8" cy="596.0" r="2.85"/><circle cx="470.4" cy="622.1" r="2.85"/><circle cx="438.6" cy="654.4" r="2.85"/><circle cx="426.9" cy="666.7" r="2.85"/><circle cx="420.1" cy="670.0" r="2.85"/><circle cx="610.3" cy="475.7" r="2.85"/><circle cx="420.1" cy="670.6" r="2.85"/><circle cx="477.3" cy="613.0" r="2.85"/><circle cx="469.5" cy="622.2" r="2.85"/><circle cx="474.6" cy="607.8" r="2.85"/><circle cx="472.1" cy="620.1" r="2.85"/><circle cx="487.6" cy="613.3" r="2.85"/><circle cx="408.3" cy="684.1" r="2.85"/><circle cx="404.1" cy="699.2" r="2.85"/><circle cx="428.6" cy="664.2" r="2.85"/><circle cx="434.8" cy="655.9" r="2.85"/><circle cx="409.3" cy="686.2" r="2.85"/><circle cx="566.3" cy="515.2" r="2.85"/><circle cx="428.6" cy="661.2" r="2.85"/><circle cx="419.0" cy="673.3" r="2.85"/><circle cx="464.5" cy="626.0" r="2.85"/><circle cx="406.4" cy="687.6" r="2.85"/><circle cx="518.5" cy="573.4" r="2.85"/><circle cx="530.4" cy="566.3" r="2.85"/><circle cx="437.3" cy="653.7" r="2.85"/><circle cx="612.6" cy="473.3" r="2.85"/><circle cx="491.7" cy="606.5" r="2.85"/><circle cx="403.8" cy="685.2" r="2.85"/><circle cx="516.0" cy="576.9" r="2.85"/><circle cx="465.0" cy="626.8" r="2.85"/><circle cx="404.7" cy="683.2" r="2.85"/><circle cx="429.7" cy="665.2" r="2.85"/><circle cx="441.3" cy="650.4" r="2.85"/><circle cx="420.8" cy="672.9" r="2.85"/><circle cx="416.2" cy="672.1" r="2.85"/><circle cx="416.0" cy="677.3" r="2.85"/><circle cx="525.2" cy="563.8" r="2.85"/><circle cx="428.5" cy="661.8" r="2.85"/><circle cx="462.7" cy="614.9" r="2.85"/><circle cx="634.8" cy="484.4" r="2.85"/><circle cx="435.3" cy="659.2" r="2.85"/><circle cx="406.0" cy="679.1" r="2.85"/><circle cx="433.8" cy="659.4" r="2.85"/><circle cx="430.9" cy="662.1" r="2.85"/><circle cx="410.0" cy="676.4" r="2.85"/><circle cx="462.2" cy="628.0" r="2.85"/><circle cx="417.2" cy="673.1" r="2.85"/><circle cx="471.9" cy="617.5" r="2.85"/><circle cx="456.4" cy="634.6" r="2.85"/><circle cx="512.7" cy="569.0" r="2.85"/><circle cx="406.5" cy="681.8" r="2.85"/><circle cx="428.1" cy="652.6" r="2.85"/><circle cx="431.1" cy="659.1" r="2.85"/><circle cx="455.3" cy="635.7" r="2.85"/><circle cx="660.5" cy="424.5" r="2.85"/><circle cx="514.0" cy="586.8" r="2.85"/><circle cx="542.3" cy="543.2" r="2.85"/><circle cx="521.9" cy="573.0" r="2.85"/><circle cx="403.2" cy="689.5" r="2.85"/><circle cx="429.0" cy="660.9" r="2.85"/><circle cx="565.1" cy="532.2" r="2.85"/><circle cx="410.3" cy="680.5" r="2.85"/><circle cx="487.5" cy="603.4" r="2.85"/><circle cx="502.2" cy="593.3" r="2.85"/><circle cx="620.2" cy="474.5" r="2.85"/><circle cx="417.2" cy="675.2" r="2.85"/><circle cx="484.5" cy="599.9" r="2.85"/><circle cx="482.3" cy="611.0" r="2.85"/><circle cx="410.9" cy="681.5" r="2.85"/><circle cx="407.3" cy="685.3" r="2.85"/><circle cx="602.5" cy="479.0" r="2.85"/><circle cx="468.0" cy="625.3" r="2.85"/><circle cx="429.9" cy="661.5" r="2.85"/><circle cx="504.5" cy="585.2" r="2.85"/><circle cx="404.7" cy="683.2" r="2.85"/><circle cx="522.6" cy="576.2" r="2.85"/><circle cx="408.1" cy="681.8" r="2.85"/><circle cx="566.9" cy="526.9" r="2.85"/><circle cx="589.6" cy="500.6" r="2.85"/><circle cx="409.4" cy="680.7" r="2.85"/><circle cx="403.4" cy="687.5" r="2.85"/><circle cx="415.6" cy="676.4" r="2.85"/><circle cx="437.6" cy="651.2" r="2.85"/><circle cx="450.6" cy="642.6" r="2.85"/><circle cx="447.5" cy="644.3" r="2.85"/><circle cx="653.5" cy="438.9" r="2.85"/><circle cx="463.2" cy="629.7" r="2.85"/><circle cx="434.6" cy="657.4" r="2.85"/><circle cx="453.9" cy="640.3" r="2.85"/><circle cx="611.4" cy="485.0" r="2.85"/><circle cx="480.9" cy="611.8" r="2.85"/><circle cx="434.3" cy="656.7" r="2.85"/><circle cx="426.3" cy="663.9" r="2.85"/><circle cx="404.9" cy="682.1" r="2.85"/><circle cx="679.4" cy="423.1" r="2.85"/><circle cx="459.8" cy="628.8" r="2.85"/><circle cx="408.3" cy="681.3" r="2.85"/><circle cx="405.6" cy="682.7" r="2.85"/><circle cx="508.8" cy="595.9" r="2.85"/><circle cx="647.3" cy="446.1" r="2.85"/><circle cx="491.3" cy="602.7" r="2.85"/><circle cx="476.1" cy="613.0" r="2.85"/><circle cx="577.4" cy="509.4" r="2.85"/><circle cx="429.8" cy="660.8" r="2.85"/><circle cx="433.4" cy="659.0" r="2.85"/><circle cx="611.8" cy="486.6" r="2.85"/><circle cx="434.9" cy="658.2" r="2.85"/><circle cx="612.4" cy="490.1" r="2.85"/><circle cx="498.1" cy="592.3" r="2.85"/><circle cx="589.1" cy="508.2" r="2.85"/><circle cx="406.5" cy="682.9" r="2.85"/><circle cx="573.9" cy="516.4" r="2.85"/><circle cx="407.8" cy="686.4" r="2.85"/><circle cx="471.3" cy="623.0" r="2.85"/><circle cx="410.1" cy="679.7" r="2.85"/><circle cx="491.7" cy="597.9" r="2.85"/><circle cx="619.2" cy="469.8" r="2.85"/><circle cx="478.5" cy="610.4" r="2.85"/><circle cx="414.9" cy="675.2" r="2.85"/><circle cx="448.2" cy="635.8" r="2.85"/><circle cx="531.8" cy="562.4" r="2.85"/><circle cx="479.1" cy="613.0" r="2.85"/><circle cx="493.3" cy="596.5" r="2.85"/><circle cx="417.2" cy="673.6" r="2.85"/><circle cx="668.9" cy="418.8" r="2.85"/><circle cx="502.2" cy="581.5" r="2.85"/><circle cx="556.4" cy="541.5" r="2.85"/><circle cx="453.9" cy="637.5" r="2.85"/><circle cx="421.3" cy="672.3" r="2.85"/><circle cx="416.9" cy="676.2" r="2.85"/><circle cx="509.4" cy="574.9" r="2.85"/><circle cx="462.7" cy="623.7" r="2.85"/><circle cx="537.2" cy="552.7" r="2.85"/><circle cx="413.2" cy="677.8" r="2.85"/><circle cx="420.1" cy="670.4" r="2.85"/><circle cx="585.5" cy="504.7" r="2.85"/><circle cx="455.5" cy="635.2" r="2.85"/><circle cx="410.4" cy="677.3" r="2.85"/><circle cx="482.5" cy="613.2" r="2.85"/><circle cx="406.2" cy="679.3" r="2.85"/><circle cx="483.1" cy="612.4" r="2.85"/><circle cx="531.1" cy="563.4" r="2.85"/><circle cx="471.1" cy="621.6" r="2.85"/><circle cx="581.5" cy="489.9" r="2.85"/><circle cx="438.5" cy="655.6" r="2.85"/><circle cx="440.6" cy="650.4" r="2.85"/><circle cx="594.9" cy="500.0" r="2.85"/><circle cx="414.4" cy="678.9" r="2.85"/><circle cx="599.0" cy="479.6" r="2.85"/><circle cx="598.4" cy="498.3" r="2.85"/><circle cx="577.4" cy="511.7" r="2.85"/><circle cx="437.6" cy="654.9" r="2.85"/><circle cx="403.6" cy="684.8" r="2.85"/><circle cx="416.1" cy="678.7" r="2.85"/><circle cx="613.0" cy="472.0" r="2.85"/><circle cx="552.8" cy="534.9" r="2.85"/><circle cx="449.0" cy="650.2" r="2.85"/><circle cx="499.6" cy="596.6" r="2.85"/><circle cx="407.6" cy="671.1" r="2.85"/><circle cx="409.3" cy="678.9" r="2.85"/><circle cx="512.0" cy="571.6" r="2.85"/><circle cx="533.1" cy="560.5" r="2.85"/><circle cx="472.3" cy="619.7" r="2.85"/><circle cx="402.9" cy="681.7" r="2.85"/><circle cx="471.8" cy="619.4" r="2.85"/><circle cx="448.1" cy="641.9" r="2.85"/><circle cx="495.9" cy="595.2" r="2.85"/><circle cx="402.6" cy="686.0" r="2.85"/><circle cx="433.6" cy="655.1" r="2.85"/><circle cx="404.6" cy="684.6" r="2.85"/><circle cx="535.0" cy="550.6" r="2.85"/><circle cx="426.2" cy="661.9" r="2.85"/><circle cx="427.7" cy="663.4" r="2.85"/><circle cx="409.8" cy="683.1" r="2.85"/><circle cx="418.9" cy="673.2" r="2.85"/><circle cx="551.7" cy="536.2" r="2.85"/><circle cx="440.6" cy="652.9" r="2.85"/><circle cx="407.0" cy="683.6" r="2.85"/><circle cx="566.3" cy="518.1" r="2.85"/><circle cx="544.9" cy="537.5" r="2.85"/><circle cx="410.0" cy="682.8" r="2.85"/><circle cx="552.8" cy="533.9" r="2.85"/><circle cx="403.7" cy="684.7" r="2.85"/><circle cx="460.8" cy="627.6" r="2.85"/><circle cx="611.2" cy="475.5" r="2.85"/><circle cx="418.5" cy="660.7" r="2.85"/><circle cx="560.4" cy="524.0" r="2.85"/><circle cx="541.6" cy="551.3" r="2.85"/><circle cx="477.4" cy="613.4" r="2.85"/><circle cx="473.5" cy="616.5" r="2.85"/><circle cx="484.8" cy="608.2" r="2.85"/><circle cx="408.0" cy="685.2" r="2.85"/><circle cx="449.6" cy="641.5" r="2.85"/><circle cx="407.3" cy="680.6" r="2.85"/><circle cx="454.6" cy="638.1" r="2.85"/><circle cx="456.3" cy="636.2" r="2.85"/><circle cx="435.3" cy="657.1" r="2.85"/><circle cx="472.2" cy="620.7" r="2.85"/><circle cx="422.6" cy="669.6" r="2.85"/><circle cx="472.6" cy="611.7" r="2.85"/><circle cx="405.5" cy="686.9" r="2.85"/><circle cx="446.0" cy="647.0" r="2.85"/><circle cx="480.3" cy="600.4" r="2.85"/><circle cx="437.7" cy="652.4" r="2.85"/><circle cx="478.9" cy="613.1" r="2.85"/><circle cx="625.2" cy="459.5" r="2.85"/><circle cx="404.9" cy="683.0" r="2.85"/><circle cx="468.3" cy="624.1" r="2.85"/><circle cx="537.0" cy="557.2" r="2.85"/><circle cx="423.8" cy="669.1" r="2.85"/><circle cx="436.4" cy="655.5" r="2.85"/><circle cx="444.5" cy="648.9" r="2.85"/><circle cx="427.5" cy="663.9" r="2.85"/><circle cx="421.2" cy="672.6" r="2.85"/><circle cx="412.3" cy="680.2" r="2.85"/><circle cx="408.8" cy="684.4" r="2.85"/><circle cx="495.6" cy="602.5" r="2.85"/><circle cx="548.2" cy="542.1" r="2.85"/><circle cx="430.0" cy="663.6" r="2.85"/><circle cx="455.1" cy="634.5" r="2.85"/><circle cx="426.7" cy="664.8" r="2.85"/><circle cx="405.2" cy="685.7" r="2.85"/><circle cx="550.1" cy="548.6" r="2.85"/><circle cx="413.6" cy="678.9" r="2.85"/><circle cx="548.8" cy="546.0" r="2.85"/><circle cx="417.9" cy="672.8" r="2.85"/><circle cx="422.9" cy="669.2" r="2.85"/><circle cx="425.7" cy="666.5" r="2.85"/></g>
<rect class="fr" x="390.9" y="412.7" width="288.6" height="287.6"/>
<text class="tk" x="401.1" y="712.0" text-anchor="middle">−1</text>
<text class="tk" x="470.3" y="712.0" text-anchor="middle">−0.5</text>
<text class="tk" x="541.0" y="712.0" text-anchor="middle">0</text>
<text class="tk" x="610.2" y="712.0" text-anchor="middle">0.5</text>
<text class="tk" x="679.5" y="712.0" text-anchor="middle">1</text>
<text class="tk" x="386.7" y="691.5" text-anchor="end">−1</text>
<text class="tk" x="386.7" y="663.9" text-anchor="end">−0.8</text>
<text class="tk" x="386.7" y="636.4" text-anchor="end">−0.6</text>
<text class="tk" x="386.7" y="608.8" text-anchor="end">−0.4</text>
<text class="tk" x="386.7" y="581.3" text-anchor="end">−0.2</text>
<text class="tk" x="387.4" y="553.7" text-anchor="end">0</text>
<text class="tk" x="387.4" y="526.1" text-anchor="end">0.2</text>
<text class="tk" x="387.4" y="498.6" text-anchor="end">0.4</text>
<text class="tk" x="387.4" y="471.0" text-anchor="end">0.6</text>
<text class="tk" x="387.4" y="443.5" text-anchor="end">0.8</text>
<text class="tk" x="387.4" y="415.9" text-anchor="end">1</text>
<path d="M402.6 700.3v-3M402.6 412.7v3M471.8 700.3v-3M471.8 412.7v3M541.0 700.3v-3M541.0 412.7v3M610.2 700.3v-3M610.2 412.7v3M679.5 700.3v-3M679.5 412.7v3M390.9 688.3h3M679.5 688.3h-3M390.9 660.7h3M679.5 660.7h-3M390.9 633.2h3M679.5 633.2h-3M390.9 605.6h3M679.5 605.6h-3M390.9 578.1h3M679.5 578.1h-3M390.9 550.5h3M679.5 550.5h-3M390.9 522.9h3M679.5 522.9h-3M390.9 495.4h3M679.5 495.4h-3M390.9 467.8h3M679.5 467.8h-3M390.9 440.3h3M679.5 440.3h-3M390.9 412.7h3M679.5 412.7h-3" stroke="#666" stroke-width="0.8" fill="none"/>
<text class="lb" x="532.1" y="726.0" text-anchor="middle">Target</text>
<text class="lb" style="font-size:11.9px" transform="translate(361.6 566.5) rotate(-90)" text-anchor="middle">Output ~= 0.99*Target + −0.0027</text>
<rect x="396.2" y="418.4" width="66.8" height="41.6" fill="#fff" stroke="#4d4d4d" stroke-width="1"/>
<circle cx="416.3" cy="426.3" r="2.95" fill="none" stroke="#1c1c1c" stroke-width="0.7"/>
<line x1="401.1" y1="439.0" x2="430.7" y2="439.0" stroke="#0808f4" stroke-width="2"/>
<line x1="401.2" y1="452.1" x2="430.7" y2="452.1" stroke="#777" stroke-width="0.6" stroke-dasharray="0.9 3.6"/>
<text class="lg" x="434.2" y="430.1">Data</text>
<text class="lg" x="434.2" y="443.4">Fit</text>
<text class="lg" x="434.2" y="456.1">Y = T</text>
</g>
</svg>
</body></html>
